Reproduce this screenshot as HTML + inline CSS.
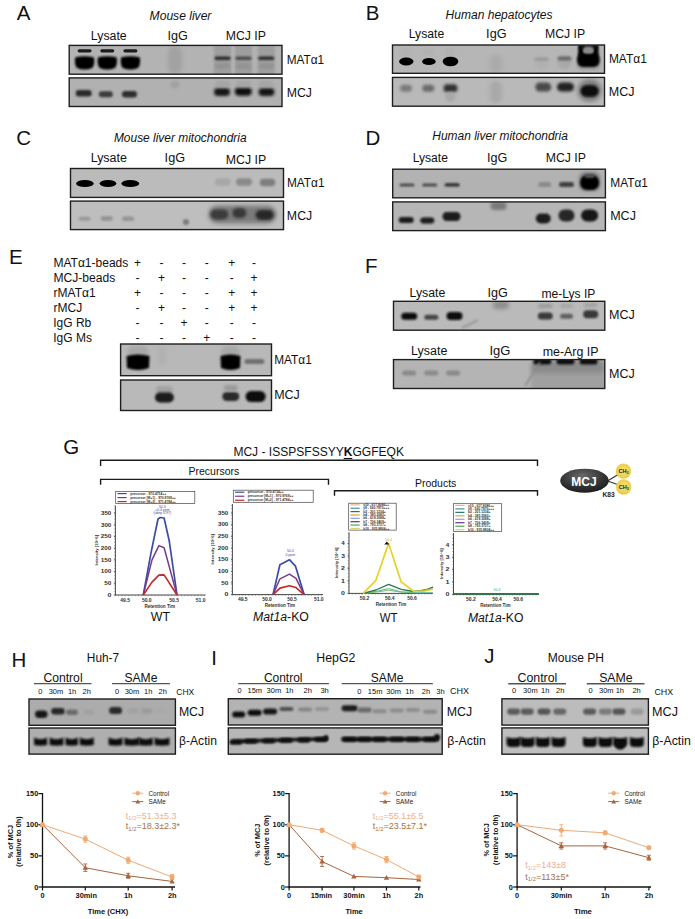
<!DOCTYPE html><html><head><meta charset="utf-8"><style>html,body{margin:0;padding:0;background:#fff;overflow:hidden;}svg{display:block;}</style></head><body>
<svg width="695" height="919" viewBox="0 0 695 919" font-family='"Liberation Sans", sans-serif'>
<defs>
<filter id="b6" x="-50%" y="-50%" width="200%" height="200%"><feGaussianBlur stdDeviation="0.6"/></filter>
<filter id="b7" x="-50%" y="-50%" width="200%" height="200%"><feGaussianBlur stdDeviation="0.7"/></filter>
<filter id="b8" x="-50%" y="-50%" width="200%" height="200%"><feGaussianBlur stdDeviation="0.8"/></filter>
<filter id="b9" x="-50%" y="-50%" width="200%" height="200%"><feGaussianBlur stdDeviation="0.9"/></filter>
<filter id="b10" x="-50%" y="-50%" width="200%" height="200%"><feGaussianBlur stdDeviation="1.0"/></filter>
<filter id="b11" x="-50%" y="-50%" width="200%" height="200%"><feGaussianBlur stdDeviation="1.1"/></filter>
<filter id="b12" x="-50%" y="-50%" width="200%" height="200%"><feGaussianBlur stdDeviation="1.2"/></filter>
<filter id="b13" x="-50%" y="-50%" width="200%" height="200%"><feGaussianBlur stdDeviation="1.3"/></filter>
<filter id="b14" x="-50%" y="-50%" width="200%" height="200%"><feGaussianBlur stdDeviation="1.4"/></filter>
<filter id="b15" x="-50%" y="-50%" width="200%" height="200%"><feGaussianBlur stdDeviation="1.5"/></filter>
<filter id="b16" x="-50%" y="-50%" width="200%" height="200%"><feGaussianBlur stdDeviation="1.6"/></filter>
<filter id="b18" x="-50%" y="-50%" width="200%" height="200%"><feGaussianBlur stdDeviation="1.8"/></filter>
<filter id="b20" x="-50%" y="-50%" width="200%" height="200%"><feGaussianBlur stdDeviation="2.0"/></filter>
</defs>
<rect width="695" height="919" fill="#fff"/>
<text x="16.76" y="19.90" font-size="20.5" fill="#111" >A</text>
<text x="149.63" y="19.90" font-size="12" fill="#111" font-style="italic" textLength="61.76" lengthAdjust="spacingAndGlyphs" >Mouse liver</text>
<text x="90.80" y="39.70" font-size="12.3" fill="#111" textLength="35.94" lengthAdjust="spacingAndGlyphs" >Lysate</text>
<text x="167.54" y="40.00" font-size="12.3" fill="#111" textLength="20.30" lengthAdjust="spacingAndGlyphs" >IgG</text>
<text x="225.80" y="40.00" font-size="12.3" fill="#111" textLength="40.15" lengthAdjust="spacingAndGlyphs" >MCJ IP</text>
<text x="286.65" y="63.70" font-size="12.3" fill="#111" textLength="37.41" lengthAdjust="spacingAndGlyphs" >MATα1</text>
<text x="286.79" y="97.40" font-size="12.3" fill="#111" textLength="25.22" lengthAdjust="spacingAndGlyphs" >MCJ</text>
<clipPath id="c1"><rect x="69.2" y="45.4" width="212.80" height="28.80"/></clipPath>
<g clip-path="url(#c1)">
<rect x="69.20" y="45.40" width="212.80" height="28.80" fill="#b3b3b3" stroke="none" stroke-width="1" rx="0" />
<rect x="77.6" y="49.2" width="14.0" height="3.2" rx="1.6" fill="#1a1a1a" opacity="1.0" filter="url(#b7)" />
<path d="M75.39999999999999,57.2 Q84.6,55.2 93.8,57.2 C94.8,61 94.3,66 92.0,68 Q84.6,71 77.19999999999999,68 C74.89999999999999,66 74.39999999999999,61 75.39999999999999,57.2 Z" fill="#050505" opacity="1.0" filter="url(#b8)"/>
<rect x="100.3" y="49.2" width="14.0" height="3.2" rx="1.6" fill="#1a1a1a" opacity="1.0" filter="url(#b7)" />
<path d="M98.1,57.2 Q107.3,55.2 116.5,57.2 C117.5,61 117.0,66 114.7,68 Q107.3,71 99.89999999999999,68 C97.6,66 97.1,61 98.1,57.2 Z" fill="#050505" opacity="1.0" filter="url(#b8)"/>
<rect x="123.4" y="49.2" width="14.0" height="3.2" rx="1.6" fill="#1a1a1a" opacity="1.0" filter="url(#b7)" />
<path d="M121.2,57.2 Q130.4,55.2 139.6,57.2 C140.6,61 140.1,66 137.8,68 Q130.4,71 123.0,68 C120.7,66 120.2,61 121.2,57.2 Z" fill="#050505" opacity="1.0" filter="url(#b8)"/>
<rect x="168.0" y="46.0" width="14.0" height="28.0" rx="7.0" fill="#a2a2a2" opacity="1.0" filter="url(#b20)" />
<rect x="214.1" y="45.0" width="17.0" height="30.0" rx="1.0" fill="#9e9e9e" opacity="1.0" filter="url(#b12)" />
<rect x="214.6" y="56.5" width="16.0" height="3.4" rx="1.7" fill="#2a2a2a" opacity="1.0" filter="url(#b10)" />
<rect x="215.1" y="63.5" width="15.0" height="5.0" rx="2.5" fill="#929292" opacity="1.0" filter="url(#b14)" />
<rect x="235.0" y="45.0" width="17.0" height="30.0" rx="1.0" fill="#9e9e9e" opacity="1.0" filter="url(#b12)" />
<rect x="235.5" y="56.5" width="16.0" height="3.4" rx="1.7" fill="#4a4a4a" opacity="1.0" filter="url(#b10)" />
<rect x="236.0" y="63.5" width="15.0" height="5.0" rx="2.5" fill="#929292" opacity="1.0" filter="url(#b14)" />
<rect x="257.7" y="45.0" width="17.0" height="30.0" rx="1.0" fill="#9e9e9e" opacity="1.0" filter="url(#b12)" />
<rect x="258.2" y="56.5" width="16.0" height="3.4" rx="1.7" fill="#2e2e2e" opacity="1.0" filter="url(#b10)" />
<rect x="258.7" y="63.5" width="15.0" height="5.0" rx="2.5" fill="#929292" opacity="1.0" filter="url(#b14)" />
</g>
<rect x="69.20" y="45.40" width="212.80" height="28.80" fill="none" stroke="#1e1e1e" stroke-width="1.4" rx="0" />
<clipPath id="c2"><rect x="69.2" y="77.9" width="212.80" height="28.60"/></clipPath>
<g clip-path="url(#c2)">
<rect x="69.20" y="77.90" width="212.80" height="28.60" fill="#b1b1b1" stroke="none" stroke-width="1" rx="0" />
<rect x="75.7" y="90.0" width="16.0" height="6.5" rx="3.2" fill="#2a2a2a" opacity="1.0" filter="url(#b13)" />
<rect x="98.8" y="91.2" width="14.0" height="6.0" rx="3.0" fill="#3a3a3a" opacity="1.0" filter="url(#b13)" />
<rect x="122.0" y="91.0" width="15.0" height="6.5" rx="3.2" fill="#2e2e2e" opacity="1.0" filter="url(#b13)" />
<rect x="170.5" y="81.0" width="9.0" height="7.0" rx="3.5" fill="#a0a0a0" opacity="1.0" filter="url(#b18)" />
<rect x="214.0" y="87.9" width="16.0" height="8.2" rx="4.1" fill="#121212" opacity="1.0" filter="url(#b14)" />
<rect x="234.8" y="87.5" width="17.0" height="8.2" rx="4.1" fill="#0c0c0c" opacity="1.0" filter="url(#b14)" />
<rect x="258.5" y="87.9" width="16.0" height="8.2" rx="4.1" fill="#161616" opacity="1.0" filter="url(#b14)" />
<rect x="215.1" y="81.0" width="15.0" height="6.0" rx="3.0" fill="#a5a5a5" opacity="1.0" filter="url(#b15)" />
<rect x="236.0" y="81.0" width="15.0" height="6.0" rx="3.0" fill="#a5a5a5" opacity="1.0" filter="url(#b15)" />
<rect x="258.7" y="81.0" width="15.0" height="6.0" rx="3.0" fill="#a5a5a5" opacity="1.0" filter="url(#b15)" />
</g>
<rect x="69.20" y="77.90" width="212.80" height="28.60" fill="none" stroke="#1e1e1e" stroke-width="1.4" rx="0" />
<text x="365.72" y="19.60" font-size="20.5" fill="#111" >B</text>
<text x="445.63" y="18.80" font-size="12" fill="#111" font-style="italic" textLength="106.92" lengthAdjust="spacingAndGlyphs" >Human hepatocytes</text>
<text x="408.81" y="37.60" font-size="12.3" fill="#111" textLength="35.42" lengthAdjust="spacingAndGlyphs" >Lysate</text>
<text x="486.13" y="38.10" font-size="12.3" fill="#111" textLength="20.42" lengthAdjust="spacingAndGlyphs" >IgG</text>
<text x="545.00" y="38.10" font-size="12.3" fill="#111" textLength="40.15" lengthAdjust="spacingAndGlyphs" >MCJ IP</text>
<text x="608.94" y="63.40" font-size="12.3" fill="#111" textLength="37.83" lengthAdjust="spacingAndGlyphs" >MATα1</text>
<text x="608.87" y="95.50" font-size="12.3" fill="#111" textLength="25.76" lengthAdjust="spacingAndGlyphs" >MCJ</text>
<clipPath id="c3"><rect x="392.5" y="45.0" width="212.00" height="28.30"/></clipPath>
<g clip-path="url(#c3)">
<rect x="392.50" y="45.00" width="212.00" height="28.30" fill="#b6b6b6" stroke="none" stroke-width="1" rx="0" />
<rect x="400.3" y="47.0" width="12.0" height="10.0" rx="5.0" fill="#b2b2b2" opacity="1.0" filter="url(#b15)" />
<rect x="422.9" y="47.0" width="12.0" height="10.0" rx="5.0" fill="#b2b2b2" opacity="1.0" filter="url(#b15)" />
<rect x="444.5" y="47.0" width="12.0" height="10.0" rx="5.0" fill="#b2b2b2" opacity="1.0" filter="url(#b15)" />
<ellipse cx="406.3" cy="61.5" rx="7.2" ry="4.0" fill="#050505" opacity="1.0" filter="url(#b6)"/>
<ellipse cx="428.9" cy="61.5" rx="6.8" ry="3.6" fill="#050505" opacity="1.0" filter="url(#b6)"/>
<ellipse cx="450.5" cy="61.5" rx="7.8" ry="4.8" fill="#050505" opacity="1.0" filter="url(#b6)"/>
<rect x="488.8" y="55.0" width="14.0" height="18.0" rx="7.0" fill="#ababab" opacity="1.0" filter="url(#b20)" />
<rect x="534.5" y="55.0" width="14.0" height="14.0" rx="7.0" fill="#b0b0b0" opacity="1.0" filter="url(#b15)" />
<rect x="534.5" y="57.8" width="14.0" height="3.0" rx="1.5" fill="#999" opacity="1.0" filter="url(#b10)" />
<rect x="557.5" y="55.0" width="14.0" height="14.0" rx="7.0" fill="#a8a8a8" opacity="1.0" filter="url(#b15)" />
<rect x="557.5" y="56.5" width="14.0" height="4.0" rx="2.0" fill="#6a6a6a" opacity="1.0" filter="url(#b9)" />
<rect x="576.5" y="54.0" width="24.0" height="16.0" rx="6.0" fill="#9a9a9a" opacity="1.0" filter="url(#b18)" />
<rect x="577.1" y="52.4" width="22.5" height="14.5" rx="6.0" fill="#050505" opacity="1.0" filter="url(#b9)" />
<rect x="578.2" y="44.5" width="5.5" height="12.0" rx="2.5" fill="#050505" opacity="1.0" filter="url(#b9)" />
<rect x="593.0" y="44.5" width="5.5" height="12.0" rx="2.5" fill="#050505" opacity="1.0" filter="url(#b9)" />
<rect x="579.4" y="45.0" width="18.0" height="4.0" rx="1.5" fill="#0a0a0a" opacity="1.0" filter="url(#b9)" />
<rect x="583.4" y="46.5" width="10.0" height="7.0" rx="3.5" fill="#8a8a8a" opacity="1.0" filter="url(#b13)" />
</g>
<rect x="392.50" y="45.00" width="212.00" height="28.30" fill="none" stroke="#1e1e1e" stroke-width="1.4" rx="0" />
<clipPath id="c4"><rect x="392.5" y="77.4" width="212.00" height="28.80"/></clipPath>
<g clip-path="url(#c4)">
<rect x="392.50" y="77.40" width="212.00" height="28.80" fill="#b9b9b9" stroke="none" stroke-width="1" rx="0" />
<rect x="400.0" y="84.8" width="12.0" height="7.0" rx="3.5" fill="#7a7a7a" opacity="1.0" filter="url(#b15)" />
<rect x="422.3" y="84.8" width="12.0" height="7.0" rx="3.5" fill="#6a6a6a" opacity="1.0" filter="url(#b15)" />
<rect x="443.5" y="84.3" width="14.0" height="8.0" rx="4.0" fill="#303030" opacity="1.0" filter="url(#b14)" />
<rect x="445.5" y="92.0" width="10.0" height="10.0" rx="5.0" fill="#a8a8a8" opacity="1.0" filter="url(#b15)" />
<rect x="489.8" y="81.0" width="12.0" height="22.0" rx="6.0" fill="#a8a8a8" opacity="1.0" filter="url(#b20)" />
<rect x="535.3" y="82.5" width="16.0" height="9.0" rx="4.5" fill="#4a4a4a" opacity="1.0" filter="url(#b15)" />
<rect x="557.0" y="82.5" width="17.0" height="9.0" rx="4.5" fill="#222" opacity="1.0" filter="url(#b14)" />
<rect x="577.6" y="79.5" width="24.0" height="22.0" rx="11.0" fill="#7a7a7a" opacity="1.0" filter="url(#b20)" />
<rect x="580.6" y="85.2" width="18.0" height="11.5" rx="5.8" fill="#080808" opacity="1.0" filter="url(#b13)" />
</g>
<rect x="392.50" y="77.40" width="212.00" height="28.80" fill="none" stroke="#1e1e1e" stroke-width="1.4" rx="0" />
<text x="16.36" y="145.40" font-size="20.5" fill="#111" >C</text>
<text x="113.93" y="141.60" font-size="12" fill="#111" font-style="italic" textLength="132.68" lengthAdjust="spacingAndGlyphs" >Mouse liver mitochondria</text>
<text x="90.69" y="161.70" font-size="12.3" fill="#111" textLength="36.15" lengthAdjust="spacingAndGlyphs" >Lysate</text>
<text x="164.63" y="161.70" font-size="12.3" fill="#111" textLength="20.42" lengthAdjust="spacingAndGlyphs" >IgG</text>
<text x="225.79" y="163.60" font-size="12.3" fill="#111" textLength="40.46" lengthAdjust="spacingAndGlyphs" >MCJ IP</text>
<text x="286.95" y="186.80" font-size="12.3" fill="#111" textLength="37.62" lengthAdjust="spacingAndGlyphs" >MATα1</text>
<text x="286.89" y="219.90" font-size="12.3" fill="#111" textLength="25.33" lengthAdjust="spacingAndGlyphs" >MCJ</text>
<clipPath id="c5"><rect x="70.5" y="168.5" width="213.00" height="28.90"/></clipPath>
<g clip-path="url(#c5)">
<rect x="70.50" y="168.50" width="213.00" height="28.90" fill="#bbbbbb" stroke="none" stroke-width="1" rx="0" />
<ellipse cx="84.9" cy="183.5" rx="8.8" ry="3.6" fill="#050505" opacity="1.0" filter="url(#b6)"/>
<ellipse cx="108.0" cy="183.5" rx="8.4" ry="3.5" fill="#050505" opacity="1.0" filter="url(#b6)"/>
<ellipse cx="130.3" cy="183.5" rx="8.9" ry="3.6" fill="#050505" opacity="1.0" filter="url(#b6)"/>
<rect x="214.8" y="178.2" width="16.0" height="7.5" rx="3.8" fill="#a8a8a8" opacity="1.0" filter="url(#b13)" />
<rect x="236.0" y="178.2" width="16.0" height="7.5" rx="3.8" fill="#8a8a8a" opacity="1.0" filter="url(#b13)" />
<rect x="259.8" y="178.8" width="15.5" height="7.5" rx="3.8" fill="#7e7e7e" opacity="1.0" filter="url(#b13)" />
</g>
<rect x="70.50" y="168.50" width="213.00" height="28.90" fill="none" stroke="#1e1e1e" stroke-width="1.4" rx="0" />
<clipPath id="c6"><rect x="70.5" y="201.1" width="213.00" height="28.50"/></clipPath>
<g clip-path="url(#c6)">
<rect x="70.50" y="201.10" width="213.00" height="28.50" fill="#bebebe" stroke="none" stroke-width="1" rx="0" />
<rect x="78.6" y="216.8" width="12.0" height="4.0" rx="2.0" fill="#9a9a9a" opacity="1.0" filter="url(#b12)" />
<rect x="100.7" y="216.2" width="12.0" height="4.5" rx="2.2" fill="#929292" opacity="1.0" filter="url(#b12)" />
<rect x="122.1" y="216.6" width="12.0" height="4.5" rx="2.2" fill="#949494" opacity="1.0" filter="url(#b12)" />
<rect x="183.0" y="219.0" width="6.0" height="6.0" rx="3.0" fill="#7a7a7a" opacity="1.0" filter="url(#b12)" />
<rect x="208.5" y="205.5" width="68.0" height="18.0" rx="9.0" fill="#7a7a7a" opacity="1.0" filter="url(#b20)" />
<rect x="210.3" y="209.5" width="18.0" height="10.0" rx="5.0" fill="#3a3a3a" opacity="1.0" filter="url(#b16)" />
<rect x="232.4" y="208.0" width="14.0" height="10.0" rx="5.0" fill="#383838" opacity="1.0" filter="url(#b16)" />
<rect x="255.6" y="210.0" width="18.0" height="10.0" rx="5.0" fill="#262626" opacity="1.0" filter="url(#b16)" />
</g>
<rect x="70.50" y="201.10" width="213.00" height="28.50" fill="none" stroke="#1e1e1e" stroke-width="1.4" rx="0" />
<text x="365.42" y="145.00" font-size="20.5" fill="#111" >D</text>
<text x="432.33" y="139.60" font-size="12" fill="#111" font-style="italic" textLength="135.58" lengthAdjust="spacingAndGlyphs" >Human liver mitochondria</text>
<text x="412.72" y="161.80" font-size="12.3" fill="#111" textLength="35.21" lengthAdjust="spacingAndGlyphs" >Lysate</text>
<text x="486.94" y="162.10" font-size="12.3" fill="#111" textLength="20.30" lengthAdjust="spacingAndGlyphs" >IgG</text>
<text x="545.80" y="162.10" font-size="12.3" fill="#111" textLength="40.15" lengthAdjust="spacingAndGlyphs" >MCJ IP</text>
<text x="610.25" y="187.30" font-size="12.3" fill="#111" textLength="37.62" lengthAdjust="spacingAndGlyphs" >MATα1</text>
<text x="610.17" y="219.90" font-size="12.3" fill="#111" textLength="25.76" lengthAdjust="spacingAndGlyphs" >MCJ</text>
<clipPath id="c7"><rect x="392.7" y="169.2" width="212.70" height="28.60"/></clipPath>
<g clip-path="url(#c7)">
<rect x="392.70" y="169.20" width="212.70" height="28.60" fill="#b2b2b2" stroke="none" stroke-width="1" rx="0" />
<rect x="399.5" y="183.4" width="15.0" height="3.0" rx="1.5" fill="#4a4a4a" opacity="1.0" filter="url(#b8)" />
<rect x="422.2" y="183.4" width="15.0" height="3.0" rx="1.5" fill="#4a4a4a" opacity="1.0" filter="url(#b8)" />
<rect x="444.6" y="183.2" width="15.0" height="3.4" rx="1.7" fill="#2a2a2a" opacity="1.0" filter="url(#b8)" />
<rect x="538.2" y="182.1" width="13.0" height="5.0" rx="2.5" fill="#8a8a8a" opacity="1.0" filter="url(#b11)" />
<rect x="559.0" y="182.1" width="15.0" height="5.0" rx="2.5" fill="#404040" opacity="1.0" filter="url(#b10)" />
<rect x="578.6" y="171.5" width="22.0" height="20.0" rx="7.0" fill="#8a8a8a" opacity="1.0" filter="url(#b16)" />
<rect x="580.1" y="175.0" width="19.0" height="15.0" rx="7.0" fill="#060606" opacity="1.0" filter="url(#b10)" />
<rect x="584.6" y="174.0" width="10.0" height="4.0" rx="2.0" fill="#555" opacity="1.0" filter="url(#b12)" />
</g>
<rect x="392.70" y="169.20" width="212.70" height="28.60" fill="none" stroke="#1e1e1e" stroke-width="1.4" rx="0" />
<clipPath id="c8"><rect x="392.7" y="201.9" width="212.70" height="28.70"/></clipPath>
<g clip-path="url(#c8)">
<rect x="392.70" y="201.90" width="212.70" height="28.70" fill="#b6b6b6" stroke="none" stroke-width="1" rx="0" />
<rect x="398.7" y="217.1" width="15.0" height="6.0" rx="3.0" fill="#1a1a1a" opacity="1.0" filter="url(#b10)" />
<rect x="420.3" y="217.5" width="14.0" height="6.0" rx="3.0" fill="#1a1a1a" opacity="1.0" filter="url(#b10)" />
<rect x="442.5" y="212.0" width="18.0" height="9.0" rx="4.5" fill="#1a1a1a" opacity="1.0" filter="url(#b10)" />
<rect x="490.5" y="202.0" width="16.0" height="8.0" rx="4.0" fill="#7a7a7a" opacity="1.0" filter="url(#b16)" />
<rect x="535.8" y="213.5" width="15.0" height="10.0" rx="5.0" fill="#1e1e1e" opacity="1.0" filter="url(#b12)" />
<rect x="558.5" y="209.5" width="16.0" height="12.0" rx="6.0" fill="#262626" opacity="1.0" filter="url(#b12)" />
<rect x="581.1" y="209.5" width="17.0" height="12.0" rx="6.0" fill="#161616" opacity="1.0" filter="url(#b12)" />
</g>
<rect x="392.70" y="201.90" width="212.70" height="28.70" fill="none" stroke="#1e1e1e" stroke-width="1.4" rx="0" />
<text x="9.12" y="263.50" font-size="20.5" fill="#111" >E</text>
<text x="53.43" y="266.50" font-size="12" fill="#111" textLength="74.90" lengthAdjust="spacingAndGlyphs" >MATα1-beads</text>
<text x="137.60" y="266.50" font-size="12" text-anchor="middle" fill="#111" >+</text>
<text x="161.60" y="266.50" font-size="12" text-anchor="middle" fill="#111" >-</text>
<text x="184.10" y="266.50" font-size="12" text-anchor="middle" fill="#111" >-</text>
<text x="206.80" y="266.50" font-size="12" text-anchor="middle" fill="#111" >-</text>
<text x="231.80" y="266.50" font-size="12" text-anchor="middle" fill="#111" >+</text>
<text x="254.00" y="266.50" font-size="12" text-anchor="middle" fill="#111" >-</text>
<text x="53.41" y="281.60" font-size="12" fill="#111" textLength="61.83" lengthAdjust="spacingAndGlyphs" >MCJ-beads</text>
<text x="137.60" y="281.60" font-size="12" text-anchor="middle" fill="#111" >-</text>
<text x="161.60" y="281.60" font-size="12" text-anchor="middle" fill="#111" >+</text>
<text x="184.10" y="281.60" font-size="12" text-anchor="middle" fill="#111" >-</text>
<text x="206.80" y="281.60" font-size="12" text-anchor="middle" fill="#111" >-</text>
<text x="231.80" y="281.60" font-size="12" text-anchor="middle" fill="#111" >-</text>
<text x="254.00" y="281.60" font-size="12" text-anchor="middle" fill="#111" >+</text>
<text x="53.60" y="296.80" font-size="12" fill="#111" >rMATα1</text>
<text x="137.60" y="296.80" font-size="12" text-anchor="middle" fill="#111" >+</text>
<text x="161.60" y="296.80" font-size="12" text-anchor="middle" fill="#111" >-</text>
<text x="184.10" y="296.80" font-size="12" text-anchor="middle" fill="#111" >-</text>
<text x="206.80" y="296.80" font-size="12" text-anchor="middle" fill="#111" >-</text>
<text x="231.80" y="296.80" font-size="12" text-anchor="middle" fill="#111" >+</text>
<text x="254.00" y="296.80" font-size="12" text-anchor="middle" fill="#111" >+</text>
<text x="53.60" y="311.60" font-size="12" fill="#111" >rMCJ</text>
<text x="137.60" y="311.60" font-size="12" text-anchor="middle" fill="#111" >-</text>
<text x="161.60" y="311.60" font-size="12" text-anchor="middle" fill="#111" >+</text>
<text x="184.10" y="311.60" font-size="12" text-anchor="middle" fill="#111" >-</text>
<text x="206.80" y="311.60" font-size="12" text-anchor="middle" fill="#111" >-</text>
<text x="231.80" y="311.60" font-size="12" text-anchor="middle" fill="#111" >+</text>
<text x="254.00" y="311.60" font-size="12" text-anchor="middle" fill="#111" >+</text>
<text x="53.29" y="326.50" font-size="12" fill="#111" >IgG Rb</text>
<text x="137.60" y="326.50" font-size="12" text-anchor="middle" fill="#111" >-</text>
<text x="161.60" y="326.50" font-size="12" text-anchor="middle" fill="#111" >-</text>
<text x="184.10" y="326.50" font-size="12" text-anchor="middle" fill="#111" >+</text>
<text x="206.80" y="326.50" font-size="12" text-anchor="middle" fill="#111" >-</text>
<text x="231.80" y="326.50" font-size="12" text-anchor="middle" fill="#111" >-</text>
<text x="254.00" y="326.50" font-size="12" text-anchor="middle" fill="#111" >-</text>
<text x="53.29" y="341.50" font-size="12" fill="#111" >IgG Ms</text>
<text x="137.60" y="341.50" font-size="12" text-anchor="middle" fill="#111" >-</text>
<text x="161.60" y="341.50" font-size="12" text-anchor="middle" fill="#111" >-</text>
<text x="184.10" y="341.50" font-size="12" text-anchor="middle" fill="#111" >-</text>
<text x="206.80" y="341.50" font-size="12" text-anchor="middle" fill="#111" >+</text>
<text x="231.80" y="341.50" font-size="12" text-anchor="middle" fill="#111" >-</text>
<text x="254.00" y="341.50" font-size="12" text-anchor="middle" fill="#111" >-</text>
<text x="274.25" y="364.00" font-size="12.3" fill="#111" textLength="37.51" lengthAdjust="spacingAndGlyphs" >MATα1</text>
<text x="274.18" y="399.00" font-size="12.3" fill="#111" textLength="25.65" lengthAdjust="spacingAndGlyphs" >MCJ</text>
<clipPath id="c9"><rect x="120.6" y="344.0" width="150.90" height="31.70"/></clipPath>
<g clip-path="url(#c9)">
<rect x="120.60" y="344.00" width="150.90" height="31.70" fill="#b8b8b8" stroke="none" stroke-width="1" rx="0" />
<rect x="127.5" y="346.0" width="21.0" height="12.0" rx="6.0" fill="#a8a8a8" opacity="1.0" filter="url(#b15)" />
<path d="M126.5,356 Q138,353 149.5,356 L149,368 Q138,372 127,368 Z" fill="#050505" opacity="1.0" filter="url(#b8)"/>
<rect x="221.0" y="346.0" width="19.0" height="12.0" rx="6.0" fill="#a8a8a8" opacity="1.0" filter="url(#b15)" />
<path d="M220.5,356 Q230.5,353 240.5,356 L240,368 Q230.5,372 221,368 Z" fill="#050505" opacity="1.0" filter="url(#b8)"/>
<rect x="244.4" y="359.1" width="20.0" height="5.0" rx="2.5" fill="#707070" opacity="1.0" filter="url(#b13)" />
<rect x="158.0" y="346.0" width="8.0" height="20.0" rx="4.0" fill="#b0b0b0" opacity="1.0" filter="url(#b20)" />
</g>
<rect x="120.60" y="344.00" width="150.90" height="31.70" fill="none" stroke="#1e1e1e" stroke-width="1.4" rx="0" />
<clipPath id="c10"><rect x="120.6" y="380.0" width="150.90" height="30.50"/></clipPath>
<g clip-path="url(#c10)">
<rect x="120.60" y="380.00" width="150.90" height="30.50" fill="#b9b9b9" stroke="none" stroke-width="1" rx="0" />
<rect x="155.9" y="386.0" width="17.0" height="8.0" rx="4.0" fill="#a0a0a0" opacity="1.0" filter="url(#b15)" />
<rect x="154.9" y="392.5" width="19.0" height="10.0" rx="5.0" fill="#1c1c1c" opacity="1.0" filter="url(#b12)" />
<rect x="222.3" y="392.0" width="17.0" height="9.0" rx="4.5" fill="#2a2a2a" opacity="1.0" filter="url(#b12)" />
<rect x="223.8" y="385.0" width="14.0" height="6.0" rx="3.0" fill="#9a9a9a" opacity="1.0" filter="url(#b15)" />
<rect x="245.6" y="391.0" width="20.0" height="11.0" rx="5.5" fill="#0e0e0e" opacity="1.0" filter="url(#b12)" />
</g>
<rect x="120.60" y="380.00" width="150.90" height="30.50" fill="none" stroke="#1e1e1e" stroke-width="1.4" rx="0" />
<text x="365.02" y="273.30" font-size="20.5" fill="#111" >F</text>
<text x="409.61" y="297.00" font-size="12.3" fill="#111" textLength="35.73" lengthAdjust="spacingAndGlyphs" >Lysate</text>
<text x="487.44" y="297.30" font-size="12.3" fill="#111" textLength="20.30" lengthAdjust="spacingAndGlyphs" >IgG</text>
<text x="541.40" y="297.50" font-size="12.3" fill="#111" textLength="54.03" lengthAdjust="spacingAndGlyphs" >me-Lys IP</text>
<text x="411.09" y="354.60" font-size="12.3" fill="#111" textLength="36.26" lengthAdjust="spacingAndGlyphs" >Lysate</text>
<text x="489.40" y="354.60" font-size="12.3" fill="#111" textLength="20.97" lengthAdjust="spacingAndGlyphs" >IgG</text>
<text x="542.68" y="355.50" font-size="12.3" fill="#111" textLength="55.88" lengthAdjust="spacingAndGlyphs" >me-Arg IP</text>
<text x="608.97" y="319.10" font-size="12.3" fill="#111" textLength="25.76" lengthAdjust="spacingAndGlyphs" >MCJ</text>
<text x="608.97" y="377.60" font-size="12.3" fill="#111" textLength="25.76" lengthAdjust="spacingAndGlyphs" >MCJ</text>
<clipPath id="c11"><rect x="393.5" y="301.3" width="211.30" height="28.90"/></clipPath>
<g clip-path="url(#c11)">
<rect x="393.50" y="301.30" width="211.30" height="28.90" fill="#bababa" stroke="none" stroke-width="1" rx="0" />
<rect x="401.2" y="312.8" width="16.0" height="7.0" rx="3.5" fill="#111" opacity="1.0" filter="url(#b10)" />
<rect x="424.3" y="314.8" width="14.0" height="5.0" rx="2.5" fill="#444" opacity="1.0" filter="url(#b10)" />
<rect x="446.5" y="311.9" width="16.0" height="8.0" rx="4.0" fill="#111" opacity="1.0" filter="url(#b10)" />
<rect x="493.0" y="301.0" width="16.0" height="8.0" rx="4.0" fill="#8c8c8c" opacity="1.0" filter="url(#b20)" />
<line x1="462" y1="328" x2="478" y2="320" stroke="#9a9a9a" stroke-width="2" filter="url(#b10)"/>
<rect x="537.8" y="304.0" width="15.0" height="4.0" rx="2.0" fill="#999" opacity="1.0" filter="url(#b14)" />
<rect x="537.8" y="312.4" width="15.0" height="7.0" rx="3.5" fill="#3a3a3a" opacity="1.0" filter="url(#b12)" />
<rect x="560.0" y="313.8" width="13.0" height="5.0" rx="2.5" fill="#606060" opacity="1.0" filter="url(#b12)" />
<rect x="560.0" y="304.0" width="13.0" height="4.0" rx="2.0" fill="#a5a5a5" opacity="1.0" filter="url(#b14)" />
<rect x="583.2" y="310.2" width="15.0" height="8.0" rx="4.0" fill="#383838" opacity="1.0" filter="url(#b12)" />
<rect x="583.7" y="303.0" width="14.0" height="4.0" rx="2.0" fill="#a0a0a0" opacity="1.0" filter="url(#b14)" />
</g>
<rect x="393.50" y="301.30" width="211.30" height="28.90" fill="none" stroke="#1e1e1e" stroke-width="1.4" rx="0" />
<clipPath id="c12"><rect x="393.5" y="359.6" width="211.30" height="28.90"/></clipPath>
<g clip-path="url(#c12)">
<rect x="393.50" y="359.60" width="211.30" height="28.90" fill="#b4b4b4" stroke="none" stroke-width="1" rx="0" />
<rect x="402.2" y="370.6" width="14.0" height="5.0" rx="2.5" fill="#8a8a8a" opacity="1.0" filter="url(#b13)" />
<rect x="424.3" y="370.6" width="14.0" height="5.0" rx="2.5" fill="#8a8a8a" opacity="1.0" filter="url(#b13)" />
<rect x="446.1" y="370.6" width="14.0" height="5.0" rx="2.5" fill="#8a8a8a" opacity="1.0" filter="url(#b13)" />
<rect x="531.0" y="362.0" width="76.0" height="30.0" rx="3.0" fill="#a0a0a0" opacity="1.0" filter="url(#b20)" />
<rect x="532.0" y="361.0" width="72.0" height="12.0" rx="3.0" fill="#8a8a8a" opacity="1.0" filter="url(#b20)" />
<rect x="533.3" y="358.5" width="18.0" height="6.0" rx="3.0" fill="#111" opacity="1.0" filter="url(#b12)" />
<rect x="556.5" y="358.5" width="18.0" height="6.0" rx="3.0" fill="#111" opacity="1.0" filter="url(#b12)" />
<rect x="579.6" y="358.5" width="18.0" height="6.0" rx="3.0" fill="#111" opacity="1.0" filter="url(#b12)" />
<line x1="525" y1="386" x2="540" y2="362" stroke="#8a8a8a" stroke-width="1.5" filter="url(#b10)"/>
</g>
<rect x="393.50" y="359.60" width="211.30" height="28.90" fill="none" stroke="#1e1e1e" stroke-width="1.4" rx="0" />
<text x="63.17" y="454.20" font-size="20.5" fill="#111" >G</text>
<text x="233.41" y="455.50" font-size="12" fill="#111" textLength="170.53" lengthAdjust="spacingAndGlyphs" >MCJ - ISSPSFSSYY<tspan font-weight="bold">K</tspan>GGFEQK</text>
<line x1="343.70" y1="458.50" x2="352.30" y2="458.50" stroke="#111" stroke-width="1.1" />
<path d="M100.6,466.0 V460.2 H537.5 V466.0" fill="none" stroke="#1a1a1a" stroke-width="1.4"/>
<text x="188.44" y="475.30" font-size="10.5" fill="#111" textLength="50.84" lengthAdjust="spacingAndGlyphs" >Precursors</text>
<path d="M100.6,484.7 V479.4 H328.5 V484.7" fill="none" stroke="#1a1a1a" stroke-width="1.4"/>
<text x="415.04" y="487.10" font-size="10.5" fill="#111" textLength="41.23" lengthAdjust="spacingAndGlyphs" >Products</text>
<path d="M334.5,495.8 V490.8 H537.5 V495.8" fill="none" stroke="#1a1a1a" stroke-width="1.4"/>
<line x1="115.40" y1="505.50" x2="115.40" y2="595.00" stroke="#333" stroke-width="0.9" />
<line x1="115.40" y1="595.00" x2="205.50" y2="595.00" stroke="#333" stroke-width="0.9" />
<text x="107.47" y="596.70" font-size="4.9" fill="#333" font-weight="bold" textLength="3.92" lengthAdjust="spacingAndGlyphs" >0</text>
<line x1="113.90" y1="595.00" x2="115.40" y2="595.00" stroke="#333" stroke-width="0.7" />
<text x="104.20" y="585.00" font-size="4.9" fill="#333" font-weight="bold" textLength="7.16" lengthAdjust="spacingAndGlyphs" >50</text>
<line x1="113.90" y1="583.30" x2="115.40" y2="583.30" stroke="#333" stroke-width="0.7" />
<text x="100.65" y="573.30" font-size="4.9" fill="#333" font-weight="bold" textLength="10.72" lengthAdjust="spacingAndGlyphs" >100</text>
<line x1="113.90" y1="571.60" x2="115.40" y2="571.60" stroke="#333" stroke-width="0.7" />
<text x="100.65" y="561.60" font-size="4.9" fill="#333" font-weight="bold" textLength="10.72" lengthAdjust="spacingAndGlyphs" >150</text>
<line x1="113.90" y1="559.90" x2="115.40" y2="559.90" stroke="#333" stroke-width="0.7" />
<text x="100.83" y="549.90" font-size="4.9" fill="#333" font-weight="bold" textLength="10.53" lengthAdjust="spacingAndGlyphs" >200</text>
<line x1="113.90" y1="548.20" x2="115.40" y2="548.20" stroke="#333" stroke-width="0.7" />
<text x="100.83" y="538.20" font-size="4.9" fill="#333" font-weight="bold" textLength="10.53" lengthAdjust="spacingAndGlyphs" >250</text>
<line x1="113.90" y1="536.50" x2="115.40" y2="536.50" stroke="#333" stroke-width="0.7" />
<text x="100.91" y="526.50" font-size="4.9" fill="#333" font-weight="bold" textLength="10.45" lengthAdjust="spacingAndGlyphs" >300</text>
<line x1="113.90" y1="524.80" x2="115.40" y2="524.80" stroke="#333" stroke-width="0.7" />
<text x="100.91" y="514.80" font-size="4.9" fill="#333" font-weight="bold" textLength="10.45" lengthAdjust="spacingAndGlyphs" >350</text>
<line x1="113.90" y1="513.10" x2="115.40" y2="513.10" stroke="#333" stroke-width="0.7" />
<text x="125.20" y="601.60" font-size="5.0" text-anchor="middle" fill="#333" font-weight="bold" >49.5</text>
<text x="146.80" y="601.60" font-size="5.0" text-anchor="middle" fill="#333" font-weight="bold" >50.0</text>
<text x="174.10" y="601.60" font-size="5.0" text-anchor="middle" fill="#333" font-weight="bold" >50.5</text>
<text x="200.70" y="601.60" font-size="5.0" text-anchor="middle" fill="#333" font-weight="bold" >51.0</text>
<line x1="115.40" y1="595.00" x2="115.40" y2="596.20" stroke="#555" stroke-width="0.5" />
<line x1="118.70" y1="595.00" x2="118.70" y2="596.20" stroke="#555" stroke-width="0.5" />
<line x1="122.00" y1="595.00" x2="122.00" y2="596.20" stroke="#555" stroke-width="0.5" />
<line x1="125.30" y1="595.00" x2="125.30" y2="596.20" stroke="#555" stroke-width="0.5" />
<line x1="128.60" y1="595.00" x2="128.60" y2="596.20" stroke="#555" stroke-width="0.5" />
<line x1="131.90" y1="595.00" x2="131.90" y2="596.20" stroke="#555" stroke-width="0.5" />
<line x1="135.20" y1="595.00" x2="135.20" y2="596.20" stroke="#555" stroke-width="0.5" />
<line x1="138.50" y1="595.00" x2="138.50" y2="596.20" stroke="#555" stroke-width="0.5" />
<line x1="141.80" y1="595.00" x2="141.80" y2="596.20" stroke="#555" stroke-width="0.5" />
<line x1="145.10" y1="595.00" x2="145.10" y2="596.20" stroke="#555" stroke-width="0.5" />
<line x1="148.40" y1="595.00" x2="148.40" y2="596.20" stroke="#555" stroke-width="0.5" />
<line x1="151.70" y1="595.00" x2="151.70" y2="596.20" stroke="#555" stroke-width="0.5" />
<line x1="155.00" y1="595.00" x2="155.00" y2="596.20" stroke="#555" stroke-width="0.5" />
<line x1="158.30" y1="595.00" x2="158.30" y2="596.20" stroke="#555" stroke-width="0.5" />
<line x1="161.60" y1="595.00" x2="161.60" y2="596.20" stroke="#555" stroke-width="0.5" />
<line x1="164.90" y1="595.00" x2="164.90" y2="596.20" stroke="#555" stroke-width="0.5" />
<line x1="168.20" y1="595.00" x2="168.20" y2="596.20" stroke="#555" stroke-width="0.5" />
<line x1="171.50" y1="595.00" x2="171.50" y2="596.20" stroke="#555" stroke-width="0.5" />
<line x1="174.80" y1="595.00" x2="174.80" y2="596.20" stroke="#555" stroke-width="0.5" />
<line x1="178.10" y1="595.00" x2="178.10" y2="596.20" stroke="#555" stroke-width="0.5" />
<line x1="181.40" y1="595.00" x2="181.40" y2="596.20" stroke="#555" stroke-width="0.5" />
<line x1="184.70" y1="595.00" x2="184.70" y2="596.20" stroke="#555" stroke-width="0.5" />
<line x1="188.00" y1="595.00" x2="188.00" y2="596.20" stroke="#555" stroke-width="0.5" />
<line x1="191.30" y1="595.00" x2="191.30" y2="596.20" stroke="#555" stroke-width="0.5" />
<line x1="194.60" y1="595.00" x2="194.60" y2="596.20" stroke="#555" stroke-width="0.5" />
<line x1="197.90" y1="595.00" x2="197.90" y2="596.20" stroke="#555" stroke-width="0.5" />
<line x1="201.20" y1="595.00" x2="201.20" y2="596.20" stroke="#555" stroke-width="0.5" />
<line x1="204.50" y1="595.00" x2="204.50" y2="596.20" stroke="#555" stroke-width="0.5" />
<line x1="114.20" y1="595.00" x2="115.40" y2="595.00" stroke="#555" stroke-width="0.5" />
<line x1="114.20" y1="591.70" x2="115.40" y2="591.70" stroke="#555" stroke-width="0.5" />
<line x1="114.20" y1="588.40" x2="115.40" y2="588.40" stroke="#555" stroke-width="0.5" />
<line x1="114.20" y1="585.10" x2="115.40" y2="585.10" stroke="#555" stroke-width="0.5" />
<line x1="114.20" y1="581.80" x2="115.40" y2="581.80" stroke="#555" stroke-width="0.5" />
<line x1="114.20" y1="578.50" x2="115.40" y2="578.50" stroke="#555" stroke-width="0.5" />
<line x1="114.20" y1="575.20" x2="115.40" y2="575.20" stroke="#555" stroke-width="0.5" />
<line x1="114.20" y1="571.90" x2="115.40" y2="571.90" stroke="#555" stroke-width="0.5" />
<line x1="114.20" y1="568.60" x2="115.40" y2="568.60" stroke="#555" stroke-width="0.5" />
<line x1="114.20" y1="565.30" x2="115.40" y2="565.30" stroke="#555" stroke-width="0.5" />
<line x1="114.20" y1="562.00" x2="115.40" y2="562.00" stroke="#555" stroke-width="0.5" />
<line x1="114.20" y1="558.70" x2="115.40" y2="558.70" stroke="#555" stroke-width="0.5" />
<line x1="114.20" y1="555.40" x2="115.40" y2="555.40" stroke="#555" stroke-width="0.5" />
<line x1="114.20" y1="552.10" x2="115.40" y2="552.10" stroke="#555" stroke-width="0.5" />
<line x1="114.20" y1="548.80" x2="115.40" y2="548.80" stroke="#555" stroke-width="0.5" />
<line x1="114.20" y1="545.50" x2="115.40" y2="545.50" stroke="#555" stroke-width="0.5" />
<line x1="114.20" y1="542.20" x2="115.40" y2="542.20" stroke="#555" stroke-width="0.5" />
<line x1="114.20" y1="538.90" x2="115.40" y2="538.90" stroke="#555" stroke-width="0.5" />
<line x1="114.20" y1="535.60" x2="115.40" y2="535.60" stroke="#555" stroke-width="0.5" />
<line x1="114.20" y1="532.30" x2="115.40" y2="532.30" stroke="#555" stroke-width="0.5" />
<line x1="114.20" y1="529.00" x2="115.40" y2="529.00" stroke="#555" stroke-width="0.5" />
<line x1="114.20" y1="525.70" x2="115.40" y2="525.70" stroke="#555" stroke-width="0.5" />
<line x1="114.20" y1="522.40" x2="115.40" y2="522.40" stroke="#555" stroke-width="0.5" />
<line x1="114.20" y1="519.10" x2="115.40" y2="519.10" stroke="#555" stroke-width="0.5" />
<line x1="114.20" y1="515.80" x2="115.40" y2="515.80" stroke="#555" stroke-width="0.5" />
<line x1="114.20" y1="512.50" x2="115.40" y2="512.50" stroke="#555" stroke-width="0.5" />
<line x1="114.20" y1="509.20" x2="115.40" y2="509.20" stroke="#555" stroke-width="0.5" />
<line x1="114.20" y1="505.90" x2="115.40" y2="505.90" stroke="#555" stroke-width="0.5" />
<text x="159.70" y="607.60" font-size="4.6" text-anchor="middle" fill="#333" font-weight="bold" >Retention Tim</text>
<text x="0" y="0" font-size="4.2" font-weight="bold" fill="#333" text-anchor="middle" transform="translate(97.8,550.25) rotate(-90)">Intensity [10^6]</text>
<rect x="115.70" y="491.60" width="79.10" height="12.00" fill="#fff" stroke="#444" stroke-width="0.7" rx="0" />
<line x1="117.50" y1="493.60" x2="126.70" y2="493.60" stroke="#3a4ca6" stroke-width="1.2" />
<text x="130.20" y="494.70" font-size="3.3" text-anchor="start" fill="#333" font-weight="bold" >precursor - 970.4754++</text>
<line x1="117.50" y1="497.60" x2="126.70" y2="497.60" stroke="#7a3a8a" stroke-width="1.2" />
<text x="130.20" y="498.70" font-size="3.3" text-anchor="start" fill="#333" font-weight="bold" >precursor [M+1] - 970.9769++</text>
<line x1="117.50" y1="501.60" x2="126.70" y2="501.60" stroke="#c22828" stroke-width="1.2" />
<text x="130.20" y="502.70" font-size="3.3" text-anchor="start" fill="#333" font-weight="bold" >precursor [M+2] - 971.4784++</text>
<polyline points="143.3,595.0 151.0,552.9 158.0,519.0 160.3,517.5 164.1,518.0 169.2,540.7 177.0,595.0" stroke="#3a4ca6" stroke-width="1.7" fill="none" stroke-linejoin="round" />
<polyline points="143.3,595.0 152.0,559.9 158.9,545.6 164.1,547.7 177.0,595.0" stroke="#7a3a8a" stroke-width="1.5" fill="none" stroke-linejoin="round" />
<polyline points="143.3,595.0 152.0,582.1 158.9,575.1 164.1,574.9 177.0,595.0" stroke="#c22828" stroke-width="1.6" fill="none" stroke-linejoin="round" />
<text x="162.30" y="507.60" font-size="3.5" text-anchor="middle" fill="#3a4ca6" >50.3</text>
<text x="162.30" y="511.00" font-size="3.5" text-anchor="middle" fill="#3a4ca6" >+0.4 ppm</text>
<text x="162.30" y="514.40" font-size="3.5" text-anchor="middle" fill="#3a4ca6" >(idotp 0.97)</text>
<line x1="232.40" y1="504.00" x2="232.40" y2="594.60" stroke="#333" stroke-width="0.9" />
<line x1="232.40" y1="594.60" x2="323.00" y2="594.60" stroke="#333" stroke-width="0.9" />
<text x="224.47" y="596.30" font-size="4.9" fill="#333" font-weight="bold" textLength="3.92" lengthAdjust="spacingAndGlyphs" >0</text>
<line x1="230.90" y1="594.60" x2="232.40" y2="594.60" stroke="#333" stroke-width="0.7" />
<text x="221.20" y="584.66" font-size="4.9" fill="#333" font-weight="bold" textLength="7.16" lengthAdjust="spacingAndGlyphs" >50</text>
<line x1="230.90" y1="582.96" x2="232.40" y2="582.96" stroke="#333" stroke-width="0.7" />
<text x="217.65" y="573.01" font-size="4.9" fill="#333" font-weight="bold" textLength="10.72" lengthAdjust="spacingAndGlyphs" >100</text>
<line x1="230.90" y1="571.31" x2="232.40" y2="571.31" stroke="#333" stroke-width="0.7" />
<text x="217.65" y="561.37" font-size="4.9" fill="#333" font-weight="bold" textLength="10.72" lengthAdjust="spacingAndGlyphs" >150</text>
<line x1="230.90" y1="559.67" x2="232.40" y2="559.67" stroke="#333" stroke-width="0.7" />
<text x="217.83" y="549.73" font-size="4.9" fill="#333" font-weight="bold" textLength="10.53" lengthAdjust="spacingAndGlyphs" >200</text>
<line x1="230.90" y1="548.03" x2="232.40" y2="548.03" stroke="#333" stroke-width="0.7" />
<text x="217.83" y="538.09" font-size="4.9" fill="#333" font-weight="bold" textLength="10.53" lengthAdjust="spacingAndGlyphs" >250</text>
<line x1="230.90" y1="536.39" x2="232.40" y2="536.39" stroke="#333" stroke-width="0.7" />
<text x="217.91" y="526.44" font-size="4.9" fill="#333" font-weight="bold" textLength="10.45" lengthAdjust="spacingAndGlyphs" >300</text>
<line x1="230.90" y1="524.74" x2="232.40" y2="524.74" stroke="#333" stroke-width="0.7" />
<text x="217.91" y="514.80" font-size="4.9" fill="#333" font-weight="bold" textLength="10.45" lengthAdjust="spacingAndGlyphs" >350</text>
<line x1="230.90" y1="513.10" x2="232.40" y2="513.10" stroke="#333" stroke-width="0.7" />
<text x="242.80" y="601.20" font-size="5.0" text-anchor="middle" fill="#333" font-weight="bold" >49.5</text>
<text x="267.00" y="601.20" font-size="5.0" text-anchor="middle" fill="#333" font-weight="bold" >50.0</text>
<text x="292.00" y="601.20" font-size="5.0" text-anchor="middle" fill="#333" font-weight="bold" >50.5</text>
<text x="318.80" y="601.20" font-size="5.0" text-anchor="middle" fill="#333" font-weight="bold" >51.0</text>
<line x1="232.40" y1="594.60" x2="232.40" y2="595.80" stroke="#555" stroke-width="0.5" />
<line x1="235.70" y1="594.60" x2="235.70" y2="595.80" stroke="#555" stroke-width="0.5" />
<line x1="239.00" y1="594.60" x2="239.00" y2="595.80" stroke="#555" stroke-width="0.5" />
<line x1="242.30" y1="594.60" x2="242.30" y2="595.80" stroke="#555" stroke-width="0.5" />
<line x1="245.60" y1="594.60" x2="245.60" y2="595.80" stroke="#555" stroke-width="0.5" />
<line x1="248.90" y1="594.60" x2="248.90" y2="595.80" stroke="#555" stroke-width="0.5" />
<line x1="252.20" y1="594.60" x2="252.20" y2="595.80" stroke="#555" stroke-width="0.5" />
<line x1="255.50" y1="594.60" x2="255.50" y2="595.80" stroke="#555" stroke-width="0.5" />
<line x1="258.80" y1="594.60" x2="258.80" y2="595.80" stroke="#555" stroke-width="0.5" />
<line x1="262.10" y1="594.60" x2="262.10" y2="595.80" stroke="#555" stroke-width="0.5" />
<line x1="265.40" y1="594.60" x2="265.40" y2="595.80" stroke="#555" stroke-width="0.5" />
<line x1="268.70" y1="594.60" x2="268.70" y2="595.80" stroke="#555" stroke-width="0.5" />
<line x1="272.00" y1="594.60" x2="272.00" y2="595.80" stroke="#555" stroke-width="0.5" />
<line x1="275.30" y1="594.60" x2="275.30" y2="595.80" stroke="#555" stroke-width="0.5" />
<line x1="278.60" y1="594.60" x2="278.60" y2="595.80" stroke="#555" stroke-width="0.5" />
<line x1="281.90" y1="594.60" x2="281.90" y2="595.80" stroke="#555" stroke-width="0.5" />
<line x1="285.20" y1="594.60" x2="285.20" y2="595.80" stroke="#555" stroke-width="0.5" />
<line x1="288.50" y1="594.60" x2="288.50" y2="595.80" stroke="#555" stroke-width="0.5" />
<line x1="291.80" y1="594.60" x2="291.80" y2="595.80" stroke="#555" stroke-width="0.5" />
<line x1="295.10" y1="594.60" x2="295.10" y2="595.80" stroke="#555" stroke-width="0.5" />
<line x1="298.40" y1="594.60" x2="298.40" y2="595.80" stroke="#555" stroke-width="0.5" />
<line x1="301.70" y1="594.60" x2="301.70" y2="595.80" stroke="#555" stroke-width="0.5" />
<line x1="305.00" y1="594.60" x2="305.00" y2="595.80" stroke="#555" stroke-width="0.5" />
<line x1="308.30" y1="594.60" x2="308.30" y2="595.80" stroke="#555" stroke-width="0.5" />
<line x1="311.60" y1="594.60" x2="311.60" y2="595.80" stroke="#555" stroke-width="0.5" />
<line x1="314.90" y1="594.60" x2="314.90" y2="595.80" stroke="#555" stroke-width="0.5" />
<line x1="318.20" y1="594.60" x2="318.20" y2="595.80" stroke="#555" stroke-width="0.5" />
<line x1="321.50" y1="594.60" x2="321.50" y2="595.80" stroke="#555" stroke-width="0.5" />
<line x1="231.20" y1="594.60" x2="232.40" y2="594.60" stroke="#555" stroke-width="0.5" />
<line x1="231.20" y1="591.30" x2="232.40" y2="591.30" stroke="#555" stroke-width="0.5" />
<line x1="231.20" y1="588.00" x2="232.40" y2="588.00" stroke="#555" stroke-width="0.5" />
<line x1="231.20" y1="584.70" x2="232.40" y2="584.70" stroke="#555" stroke-width="0.5" />
<line x1="231.20" y1="581.40" x2="232.40" y2="581.40" stroke="#555" stroke-width="0.5" />
<line x1="231.20" y1="578.10" x2="232.40" y2="578.10" stroke="#555" stroke-width="0.5" />
<line x1="231.20" y1="574.80" x2="232.40" y2="574.80" stroke="#555" stroke-width="0.5" />
<line x1="231.20" y1="571.50" x2="232.40" y2="571.50" stroke="#555" stroke-width="0.5" />
<line x1="231.20" y1="568.20" x2="232.40" y2="568.20" stroke="#555" stroke-width="0.5" />
<line x1="231.20" y1="564.90" x2="232.40" y2="564.90" stroke="#555" stroke-width="0.5" />
<line x1="231.20" y1="561.60" x2="232.40" y2="561.60" stroke="#555" stroke-width="0.5" />
<line x1="231.20" y1="558.30" x2="232.40" y2="558.30" stroke="#555" stroke-width="0.5" />
<line x1="231.20" y1="555.00" x2="232.40" y2="555.00" stroke="#555" stroke-width="0.5" />
<line x1="231.20" y1="551.70" x2="232.40" y2="551.70" stroke="#555" stroke-width="0.5" />
<line x1="231.20" y1="548.40" x2="232.40" y2="548.40" stroke="#555" stroke-width="0.5" />
<line x1="231.20" y1="545.10" x2="232.40" y2="545.10" stroke="#555" stroke-width="0.5" />
<line x1="231.20" y1="541.80" x2="232.40" y2="541.80" stroke="#555" stroke-width="0.5" />
<line x1="231.20" y1="538.50" x2="232.40" y2="538.50" stroke="#555" stroke-width="0.5" />
<line x1="231.20" y1="535.20" x2="232.40" y2="535.20" stroke="#555" stroke-width="0.5" />
<line x1="231.20" y1="531.90" x2="232.40" y2="531.90" stroke="#555" stroke-width="0.5" />
<line x1="231.20" y1="528.60" x2="232.40" y2="528.60" stroke="#555" stroke-width="0.5" />
<line x1="231.20" y1="525.30" x2="232.40" y2="525.30" stroke="#555" stroke-width="0.5" />
<line x1="231.20" y1="522.00" x2="232.40" y2="522.00" stroke="#555" stroke-width="0.5" />
<line x1="231.20" y1="518.70" x2="232.40" y2="518.70" stroke="#555" stroke-width="0.5" />
<line x1="231.20" y1="515.40" x2="232.40" y2="515.40" stroke="#555" stroke-width="0.5" />
<line x1="231.20" y1="512.10" x2="232.40" y2="512.10" stroke="#555" stroke-width="0.5" />
<line x1="231.20" y1="508.80" x2="232.40" y2="508.80" stroke="#555" stroke-width="0.5" />
<line x1="231.20" y1="505.50" x2="232.40" y2="505.50" stroke="#555" stroke-width="0.5" />
<text x="279.90" y="607.20" font-size="4.6" text-anchor="middle" fill="#333" font-weight="bold" >Retention Tim</text>
<text x="0" y="0" font-size="4.2" font-weight="bold" fill="#333" text-anchor="middle" transform="translate(213.8,549.3) rotate(-90)">Intensity [10^6]</text>
<rect x="233.30" y="490.20" width="79.90" height="12.10" fill="#fff" stroke="#444" stroke-width="0.7" rx="0" />
<line x1="235.10" y1="492.22" x2="244.30" y2="492.22" stroke="#3a4ca6" stroke-width="1.2" />
<text x="247.80" y="493.32" font-size="3.3" text-anchor="start" fill="#333" font-weight="bold" >precursor - 970.4754++</text>
<line x1="235.10" y1="496.25" x2="244.30" y2="496.25" stroke="#7a3a8a" stroke-width="1.2" />
<text x="247.80" y="497.35" font-size="3.3" text-anchor="start" fill="#333" font-weight="bold" >precursor [M+1] - 970.9769++</text>
<line x1="235.10" y1="500.28" x2="244.30" y2="500.28" stroke="#c22828" stroke-width="1.2" />
<text x="247.80" y="501.38" font-size="3.3" text-anchor="start" fill="#333" font-weight="bold" >precursor [M+2] - 971.4784++</text>
<polyline points="273.0,594.6 279.9,564.8 289.4,559.7 295.5,566.2 304.1,594.6" stroke="#3a4ca6" stroke-width="1.7" fill="none" stroke-linejoin="round" />
<polyline points="273.0,594.6 280.0,578.8 289.4,574.1 296.0,578.3 304.1,594.6" stroke="#7a3a8a" stroke-width="1.5" fill="none" stroke-linejoin="round" />
<polyline points="273.0,594.6 280.0,588.1 289.4,585.8 296.0,587.6 304.1,594.6" stroke="#c22828" stroke-width="1.6" fill="none" stroke-linejoin="round" />
<text x="290.30" y="552.20" font-size="3.5" text-anchor="middle" fill="#3a4ca6" >50.4</text>
<text x="290.30" y="555.80" font-size="3.5" text-anchor="middle" fill="#3a4ca6" >0 ppm</text>
<text x="150.85" y="621.30" font-size="12" fill="#111" textLength="19.24" lengthAdjust="spacingAndGlyphs" >WT</text>
<text x="252.99" y="621.30" font-size="12" fill="#111" textLength="55.89" lengthAdjust="spacingAndGlyphs" ><tspan font-style="italic">Mat1a</tspan>-KO</text>
<text x="379.75" y="621.80" font-size="12" fill="#111" textLength="17.71" lengthAdjust="spacingAndGlyphs" >WT</text>
<text x="467.90" y="621.80" font-size="12" fill="#111" textLength="55.48" lengthAdjust="spacingAndGlyphs" ><tspan font-style="italic">Mat1a</tspan>-KO</text>
<line x1="349.00" y1="532.20" x2="349.00" y2="593.40" stroke="#333" stroke-width="0.9" />
<line x1="349.00" y1="593.40" x2="432.90" y2="593.40" stroke="#333" stroke-width="0.9" />
<text x="341.07" y="595.10" font-size="4.9" fill="#333" font-weight="bold" textLength="3.92" lengthAdjust="spacingAndGlyphs" >0</text>
<line x1="347.50" y1="593.40" x2="349.00" y2="593.40" stroke="#333" stroke-width="0.7" />
<text x="340.90" y="582.60" font-size="4.9" fill="#333" font-weight="bold" textLength="4.00" lengthAdjust="spacingAndGlyphs" >1</text>
<line x1="347.50" y1="580.90" x2="349.00" y2="580.90" stroke="#333" stroke-width="0.7" />
<text x="341.11" y="570.10" font-size="4.9" fill="#333" font-weight="bold" textLength="3.87" lengthAdjust="spacingAndGlyphs" >2</text>
<line x1="347.50" y1="568.40" x2="349.00" y2="568.40" stroke="#333" stroke-width="0.7" />
<text x="341.20" y="557.60" font-size="4.9" fill="#333" font-weight="bold" textLength="3.75" lengthAdjust="spacingAndGlyphs" >3</text>
<line x1="347.50" y1="555.90" x2="349.00" y2="555.90" stroke="#333" stroke-width="0.7" />
<text x="341.26" y="545.10" font-size="4.9" fill="#333" font-weight="bold" textLength="3.48" lengthAdjust="spacingAndGlyphs" >4</text>
<line x1="347.50" y1="543.40" x2="349.00" y2="543.40" stroke="#333" stroke-width="0.7" />
<text x="364.50" y="600.00" font-size="5.0" text-anchor="middle" fill="#333" font-weight="bold" >50.2</text>
<text x="389.80" y="600.00" font-size="5.0" text-anchor="middle" fill="#333" font-weight="bold" >50.4</text>
<text x="412.00" y="600.00" font-size="5.0" text-anchor="middle" fill="#333" font-weight="bold" >50.6</text>
<line x1="349.00" y1="593.40" x2="349.00" y2="594.60" stroke="#555" stroke-width="0.5" />
<line x1="352.30" y1="593.40" x2="352.30" y2="594.60" stroke="#555" stroke-width="0.5" />
<line x1="355.60" y1="593.40" x2="355.60" y2="594.60" stroke="#555" stroke-width="0.5" />
<line x1="358.90" y1="593.40" x2="358.90" y2="594.60" stroke="#555" stroke-width="0.5" />
<line x1="362.20" y1="593.40" x2="362.20" y2="594.60" stroke="#555" stroke-width="0.5" />
<line x1="365.50" y1="593.40" x2="365.50" y2="594.60" stroke="#555" stroke-width="0.5" />
<line x1="368.80" y1="593.40" x2="368.80" y2="594.60" stroke="#555" stroke-width="0.5" />
<line x1="372.10" y1="593.40" x2="372.10" y2="594.60" stroke="#555" stroke-width="0.5" />
<line x1="375.40" y1="593.40" x2="375.40" y2="594.60" stroke="#555" stroke-width="0.5" />
<line x1="378.70" y1="593.40" x2="378.70" y2="594.60" stroke="#555" stroke-width="0.5" />
<line x1="382.00" y1="593.40" x2="382.00" y2="594.60" stroke="#555" stroke-width="0.5" />
<line x1="385.30" y1="593.40" x2="385.30" y2="594.60" stroke="#555" stroke-width="0.5" />
<line x1="388.60" y1="593.40" x2="388.60" y2="594.60" stroke="#555" stroke-width="0.5" />
<line x1="391.90" y1="593.40" x2="391.90" y2="594.60" stroke="#555" stroke-width="0.5" />
<line x1="395.20" y1="593.40" x2="395.20" y2="594.60" stroke="#555" stroke-width="0.5" />
<line x1="398.50" y1="593.40" x2="398.50" y2="594.60" stroke="#555" stroke-width="0.5" />
<line x1="401.80" y1="593.40" x2="401.80" y2="594.60" stroke="#555" stroke-width="0.5" />
<line x1="405.10" y1="593.40" x2="405.10" y2="594.60" stroke="#555" stroke-width="0.5" />
<line x1="408.40" y1="593.40" x2="408.40" y2="594.60" stroke="#555" stroke-width="0.5" />
<line x1="411.70" y1="593.40" x2="411.70" y2="594.60" stroke="#555" stroke-width="0.5" />
<line x1="415.00" y1="593.40" x2="415.00" y2="594.60" stroke="#555" stroke-width="0.5" />
<line x1="418.30" y1="593.40" x2="418.30" y2="594.60" stroke="#555" stroke-width="0.5" />
<line x1="421.60" y1="593.40" x2="421.60" y2="594.60" stroke="#555" stroke-width="0.5" />
<line x1="424.90" y1="593.40" x2="424.90" y2="594.60" stroke="#555" stroke-width="0.5" />
<line x1="428.20" y1="593.40" x2="428.20" y2="594.60" stroke="#555" stroke-width="0.5" />
<line x1="431.50" y1="593.40" x2="431.50" y2="594.60" stroke="#555" stroke-width="0.5" />
<line x1="347.80" y1="593.40" x2="349.00" y2="593.40" stroke="#555" stroke-width="0.5" />
<line x1="347.80" y1="590.10" x2="349.00" y2="590.10" stroke="#555" stroke-width="0.5" />
<line x1="347.80" y1="586.80" x2="349.00" y2="586.80" stroke="#555" stroke-width="0.5" />
<line x1="347.80" y1="583.50" x2="349.00" y2="583.50" stroke="#555" stroke-width="0.5" />
<line x1="347.80" y1="580.20" x2="349.00" y2="580.20" stroke="#555" stroke-width="0.5" />
<line x1="347.80" y1="576.90" x2="349.00" y2="576.90" stroke="#555" stroke-width="0.5" />
<line x1="347.80" y1="573.60" x2="349.00" y2="573.60" stroke="#555" stroke-width="0.5" />
<line x1="347.80" y1="570.30" x2="349.00" y2="570.30" stroke="#555" stroke-width="0.5" />
<line x1="347.80" y1="567.00" x2="349.00" y2="567.00" stroke="#555" stroke-width="0.5" />
<line x1="347.80" y1="563.70" x2="349.00" y2="563.70" stroke="#555" stroke-width="0.5" />
<line x1="347.80" y1="560.40" x2="349.00" y2="560.40" stroke="#555" stroke-width="0.5" />
<line x1="347.80" y1="557.10" x2="349.00" y2="557.10" stroke="#555" stroke-width="0.5" />
<line x1="347.80" y1="553.80" x2="349.00" y2="553.80" stroke="#555" stroke-width="0.5" />
<line x1="347.80" y1="550.50" x2="349.00" y2="550.50" stroke="#555" stroke-width="0.5" />
<line x1="347.80" y1="547.20" x2="349.00" y2="547.20" stroke="#555" stroke-width="0.5" />
<line x1="347.80" y1="543.90" x2="349.00" y2="543.90" stroke="#555" stroke-width="0.5" />
<line x1="347.80" y1="540.60" x2="349.00" y2="540.60" stroke="#555" stroke-width="0.5" />
<line x1="347.80" y1="537.30" x2="349.00" y2="537.30" stroke="#555" stroke-width="0.5" />
<line x1="347.80" y1="534.00" x2="349.00" y2="534.00" stroke="#555" stroke-width="0.5" />
<text x="391.00" y="606.00" font-size="4.6" text-anchor="middle" fill="#333" font-weight="bold" >Retention Tim</text>
<text x="0" y="0" font-size="4.2" font-weight="bold" fill="#333" text-anchor="middle" transform="translate(338.0,562.8) rotate(-90)">Intensity [10^6]</text>
<rect x="348.70" y="503.20" width="47.50" height="26.90" fill="#fff" stroke="#444" stroke-width="0.7" rx="0" />
<line x1="350.50" y1="504.88" x2="359.70" y2="504.88" stroke="#e8b890" stroke-width="1.2" />
<text x="363.20" y="505.98" font-size="3.3" text-anchor="start" fill="#333" font-weight="bold" >y10 - 617.8086++</text>
<line x1="350.50" y1="508.24" x2="359.70" y2="508.24" stroke="#3a9a9a" stroke-width="1.2" />
<text x="363.20" y="509.34" font-size="3.3" text-anchor="start" fill="#333" font-weight="bold" >y9 - 560.7970+++</text>
<line x1="350.50" y1="511.61" x2="359.70" y2="511.61" stroke="#1f7a5a" stroke-width="1.2" />
<text x="363.20" y="512.71" font-size="3.3" text-anchor="start" fill="#333" font-weight="bold" >b2 - 201.1234+</text>
<line x1="350.50" y1="514.97" x2="359.70" y2="514.97" stroke="#e89a4a" stroke-width="1.2" />
<text x="363.20" y="516.07" font-size="3.3" text-anchor="start" fill="#333" font-weight="bold" >b4 - 385.2082+</text>
<line x1="350.50" y1="518.33" x2="359.70" y2="518.33" stroke="#8fa0d8" stroke-width="1.2" />
<text x="363.20" y="519.43" font-size="3.3" text-anchor="start" fill="#333" font-weight="bold" >b6 - 619.3088+</text>
<line x1="350.50" y1="521.69" x2="359.70" y2="521.69" stroke="#6a2a8a" stroke-width="1.2" />
<text x="363.20" y="522.79" font-size="3.3" text-anchor="start" fill="#333" font-weight="bold" >b7 - 706.3409+</text>
<line x1="350.50" y1="525.06" x2="359.70" y2="525.06" stroke="#4aaa4a" stroke-width="1.2" />
<text x="363.20" y="526.16" font-size="3.3" text-anchor="start" fill="#333" font-weight="bold" >b8 - 793.3727+</text>
<line x1="350.50" y1="528.42" x2="359.70" y2="528.42" stroke="#e0d070" stroke-width="1.2" />
<text x="363.20" y="529.52" font-size="3.3" text-anchor="start" fill="#333" font-weight="bold" >b10 - 935.8804++</text>
<polyline points="363.2,593.4 375.9,591.5 388.6,588.6 401.2,591.9 413.9,592.8 432.9,592.8" stroke="#4ab0a0" stroke-width="1.0" fill="none" stroke-linejoin="round" />
<polyline points="363.2,593.4 375.9,592.1 388.6,590.3 401.2,592.1 413.9,592.1 425.0,589.6 432.9,587.1" stroke="#7ac070" stroke-width="1.0" fill="none" stroke-linejoin="round" />
<polyline points="363.2,593.4 375.9,590.0 388.6,584.4 401.2,589.3 413.9,591.5 426.5,590.0 432.9,587.1" stroke="#2a7a4a" stroke-width="1.3" fill="none" stroke-linejoin="round" />
<polyline points="363.2,593.4 375.9,580.3 388.6,543.4 401.2,581.9 413.9,591.5 425.0,590.9 432.9,589.0" stroke="#e8d02a" stroke-width="1.7" fill="none" stroke-linejoin="round" />
<text x="388.60" y="540.90" font-size="3.5" text-anchor="middle" fill="#c8a060" >50.4</text>
<path d="M384.3,544.6 L386.8,541.6 L389.3,544.6 Z" fill="#111"/>
<line x1="453.50" y1="533.00" x2="453.50" y2="594.40" stroke="#333" stroke-width="0.9" />
<line x1="453.50" y1="594.40" x2="538.90" y2="594.40" stroke="#333" stroke-width="0.9" />
<text x="445.57" y="596.10" font-size="4.9" fill="#333" font-weight="bold" textLength="3.92" lengthAdjust="spacingAndGlyphs" >0</text>
<line x1="452.00" y1="594.40" x2="453.50" y2="594.40" stroke="#333" stroke-width="0.7" />
<text x="445.40" y="583.70" font-size="4.9" fill="#333" font-weight="bold" textLength="4.00" lengthAdjust="spacingAndGlyphs" >1</text>
<line x1="452.00" y1="582.00" x2="453.50" y2="582.00" stroke="#333" stroke-width="0.7" />
<text x="445.61" y="571.30" font-size="4.9" fill="#333" font-weight="bold" textLength="3.87" lengthAdjust="spacingAndGlyphs" >2</text>
<line x1="452.00" y1="569.60" x2="453.50" y2="569.60" stroke="#333" stroke-width="0.7" />
<text x="445.70" y="558.90" font-size="4.9" fill="#333" font-weight="bold" textLength="3.75" lengthAdjust="spacingAndGlyphs" >3</text>
<line x1="452.00" y1="557.20" x2="453.50" y2="557.20" stroke="#333" stroke-width="0.7" />
<text x="445.76" y="546.50" font-size="4.9" fill="#333" font-weight="bold" textLength="3.48" lengthAdjust="spacingAndGlyphs" >4</text>
<line x1="452.00" y1="544.80" x2="453.50" y2="544.80" stroke="#333" stroke-width="0.7" />
<text x="470.90" y="600.60" font-size="5.0" text-anchor="middle" fill="#333" font-weight="bold" >50.2</text>
<text x="497.00" y="600.60" font-size="5.0" text-anchor="middle" fill="#333" font-weight="bold" >50.4</text>
<text x="518.30" y="600.60" font-size="5.0" text-anchor="middle" fill="#333" font-weight="bold" >50.6</text>
<line x1="453.50" y1="594.40" x2="453.50" y2="595.60" stroke="#555" stroke-width="0.5" />
<line x1="456.80" y1="594.40" x2="456.80" y2="595.60" stroke="#555" stroke-width="0.5" />
<line x1="460.10" y1="594.40" x2="460.10" y2="595.60" stroke="#555" stroke-width="0.5" />
<line x1="463.40" y1="594.40" x2="463.40" y2="595.60" stroke="#555" stroke-width="0.5" />
<line x1="466.70" y1="594.40" x2="466.70" y2="595.60" stroke="#555" stroke-width="0.5" />
<line x1="470.00" y1="594.40" x2="470.00" y2="595.60" stroke="#555" stroke-width="0.5" />
<line x1="473.30" y1="594.40" x2="473.30" y2="595.60" stroke="#555" stroke-width="0.5" />
<line x1="476.60" y1="594.40" x2="476.60" y2="595.60" stroke="#555" stroke-width="0.5" />
<line x1="479.90" y1="594.40" x2="479.90" y2="595.60" stroke="#555" stroke-width="0.5" />
<line x1="483.20" y1="594.40" x2="483.20" y2="595.60" stroke="#555" stroke-width="0.5" />
<line x1="486.50" y1="594.40" x2="486.50" y2="595.60" stroke="#555" stroke-width="0.5" />
<line x1="489.80" y1="594.40" x2="489.80" y2="595.60" stroke="#555" stroke-width="0.5" />
<line x1="493.10" y1="594.40" x2="493.10" y2="595.60" stroke="#555" stroke-width="0.5" />
<line x1="496.40" y1="594.40" x2="496.40" y2="595.60" stroke="#555" stroke-width="0.5" />
<line x1="499.70" y1="594.40" x2="499.70" y2="595.60" stroke="#555" stroke-width="0.5" />
<line x1="503.00" y1="594.40" x2="503.00" y2="595.60" stroke="#555" stroke-width="0.5" />
<line x1="506.30" y1="594.40" x2="506.30" y2="595.60" stroke="#555" stroke-width="0.5" />
<line x1="509.60" y1="594.40" x2="509.60" y2="595.60" stroke="#555" stroke-width="0.5" />
<line x1="512.90" y1="594.40" x2="512.90" y2="595.60" stroke="#555" stroke-width="0.5" />
<line x1="516.20" y1="594.40" x2="516.20" y2="595.60" stroke="#555" stroke-width="0.5" />
<line x1="519.50" y1="594.40" x2="519.50" y2="595.60" stroke="#555" stroke-width="0.5" />
<line x1="522.80" y1="594.40" x2="522.80" y2="595.60" stroke="#555" stroke-width="0.5" />
<line x1="526.10" y1="594.40" x2="526.10" y2="595.60" stroke="#555" stroke-width="0.5" />
<line x1="529.40" y1="594.40" x2="529.40" y2="595.60" stroke="#555" stroke-width="0.5" />
<line x1="532.70" y1="594.40" x2="532.70" y2="595.60" stroke="#555" stroke-width="0.5" />
<line x1="536.00" y1="594.40" x2="536.00" y2="595.60" stroke="#555" stroke-width="0.5" />
<line x1="452.30" y1="594.40" x2="453.50" y2="594.40" stroke="#555" stroke-width="0.5" />
<line x1="452.30" y1="591.10" x2="453.50" y2="591.10" stroke="#555" stroke-width="0.5" />
<line x1="452.30" y1="587.80" x2="453.50" y2="587.80" stroke="#555" stroke-width="0.5" />
<line x1="452.30" y1="584.50" x2="453.50" y2="584.50" stroke="#555" stroke-width="0.5" />
<line x1="452.30" y1="581.20" x2="453.50" y2="581.20" stroke="#555" stroke-width="0.5" />
<line x1="452.30" y1="577.90" x2="453.50" y2="577.90" stroke="#555" stroke-width="0.5" />
<line x1="452.30" y1="574.60" x2="453.50" y2="574.60" stroke="#555" stroke-width="0.5" />
<line x1="452.30" y1="571.30" x2="453.50" y2="571.30" stroke="#555" stroke-width="0.5" />
<line x1="452.30" y1="568.00" x2="453.50" y2="568.00" stroke="#555" stroke-width="0.5" />
<line x1="452.30" y1="564.70" x2="453.50" y2="564.70" stroke="#555" stroke-width="0.5" />
<line x1="452.30" y1="561.40" x2="453.50" y2="561.40" stroke="#555" stroke-width="0.5" />
<line x1="452.30" y1="558.10" x2="453.50" y2="558.10" stroke="#555" stroke-width="0.5" />
<line x1="452.30" y1="554.80" x2="453.50" y2="554.80" stroke="#555" stroke-width="0.5" />
<line x1="452.30" y1="551.50" x2="453.50" y2="551.50" stroke="#555" stroke-width="0.5" />
<line x1="452.30" y1="548.20" x2="453.50" y2="548.20" stroke="#555" stroke-width="0.5" />
<line x1="452.30" y1="544.90" x2="453.50" y2="544.90" stroke="#555" stroke-width="0.5" />
<line x1="452.30" y1="541.60" x2="453.50" y2="541.60" stroke="#555" stroke-width="0.5" />
<line x1="452.30" y1="538.30" x2="453.50" y2="538.30" stroke="#555" stroke-width="0.5" />
<line x1="452.30" y1="535.00" x2="453.50" y2="535.00" stroke="#555" stroke-width="0.5" />
<text x="495.40" y="606.60" font-size="4.6" text-anchor="middle" fill="#333" font-weight="bold" >Retention Tim</text>
<text x="0" y="0" font-size="4.2" font-weight="bold" fill="#333" text-anchor="middle" transform="translate(442.5,563.7) rotate(-90)">Intensity [10^6]</text>
<rect x="453.50" y="503.70" width="48.20" height="27.70" fill="#fff" stroke="#444" stroke-width="0.7" rx="0" />
<line x1="455.30" y1="505.43" x2="464.50" y2="505.43" stroke="#e8b890" stroke-width="1.2" />
<text x="468.00" y="506.53" font-size="3.3" text-anchor="start" fill="#333" font-weight="bold" >y10 - 617.8086++</text>
<line x1="455.30" y1="508.89" x2="464.50" y2="508.89" stroke="#3a9a9a" stroke-width="1.2" />
<text x="468.00" y="509.99" font-size="3.3" text-anchor="start" fill="#333" font-weight="bold" >y9 - 560.7970+++</text>
<line x1="455.30" y1="512.36" x2="464.50" y2="512.36" stroke="#1f7a5a" stroke-width="1.2" />
<text x="468.00" y="513.46" font-size="3.3" text-anchor="start" fill="#333" font-weight="bold" >b2 - 201.1234+</text>
<line x1="455.30" y1="515.82" x2="464.50" y2="515.82" stroke="#e89a4a" stroke-width="1.2" />
<text x="468.00" y="516.92" font-size="3.3" text-anchor="start" fill="#333" font-weight="bold" >b4 - 385.2082+</text>
<line x1="455.30" y1="519.28" x2="464.50" y2="519.28" stroke="#8fa0d8" stroke-width="1.2" />
<text x="468.00" y="520.38" font-size="3.3" text-anchor="start" fill="#333" font-weight="bold" >b6 - 619.3088+</text>
<line x1="455.30" y1="522.74" x2="464.50" y2="522.74" stroke="#6a2a8a" stroke-width="1.2" />
<text x="468.00" y="523.84" font-size="3.3" text-anchor="start" fill="#333" font-weight="bold" >b7 - 706.3409+</text>
<line x1="455.30" y1="526.21" x2="464.50" y2="526.21" stroke="#4aaa4a" stroke-width="1.2" />
<text x="468.00" y="527.31" font-size="3.3" text-anchor="start" fill="#333" font-weight="bold" >b8 - 793.3727+</text>
<line x1="455.30" y1="529.67" x2="464.50" y2="529.67" stroke="#e0d070" stroke-width="1.2" />
<text x="468.00" y="530.77" font-size="3.3" text-anchor="start" fill="#333" font-weight="bold" >b10 - 935.8804++</text>
<polyline points="453.5,593.8 538.9,593.8" stroke="#2a7a4a" stroke-width="1.7" fill="none" stroke-linejoin="round" />
<text x="497.00" y="591.20" font-size="3.5" text-anchor="middle" fill="#3a9a7a" >50.4</text>
<defs><radialGradient id="mg" cx="0.45" cy="0.3" r="0.75"><stop offset="0" stop-color="#6a6a6a"/><stop offset="0.6" stop-color="#333"/><stop offset="1" stop-color="#1a1a1a"/></radialGradient><radialGradient id="yg" cx="0.5" cy="0.45" r="0.6"><stop offset="0" stop-color="#f7e27a"/><stop offset="1" stop-color="#e8c840"/></radialGradient></defs>
<line x1="607.50" y1="481.00" x2="619.00" y2="474.00" stroke="#333" stroke-width="1.1" />
<line x1="607.50" y1="481.00" x2="619.00" y2="485.00" stroke="#333" stroke-width="1.1" />
<ellipse cx="584.5" cy="480.7" rx="24.3" ry="12" fill="url(#mg)"/>
<text x="571.19" y="485.50" font-size="12" fill="#fff" font-weight="bold" textLength="25.43" lengthAdjust="spacingAndGlyphs" >MCJ</text>
<circle cx="623.5" cy="471.1" r="7.7" fill="url(#yg)"/>
<circle cx="623.7" cy="487" r="7.7" fill="url(#yg)"/>
<text x="623.50" y="473.20" font-size="5.6" text-anchor="middle" fill="#222" font-weight="bold" >CH<tspan font-size="3.5" dy="1">3</tspan></text>
<text x="623.70" y="489.10" font-size="5.6" text-anchor="middle" fill="#222" font-weight="bold" >CH<tspan font-size="3.5" dy="1">3</tspan></text>
<text x="602.46" y="496.70" font-size="7" fill="#222" font-weight="bold" textLength="12.18" lengthAdjust="spacingAndGlyphs" >K83</text>
<text x="11.42" y="667.00" font-size="20.5" fill="#111" >H</text>
<text x="86.83" y="662.00" font-size="12" fill="#111" textLength="32.27" lengthAdjust="spacingAndGlyphs" >Huh-7</text>
<text x="43.38" y="681.90" font-size="12.3" fill="#111" textLength="39.23" lengthAdjust="spacingAndGlyphs" >Control</text>
<text x="124.45" y="681.90" font-size="12.3" fill="#111" textLength="32.99" lengthAdjust="spacingAndGlyphs" >SAMe</text>
<line x1="33.90" y1="683.60" x2="91.50" y2="683.60" stroke="#555" stroke-width="1.4" />
<line x1="112.00" y1="683.60" x2="169.90" y2="683.60" stroke="#555" stroke-width="1.4" />
<text x="38.31" y="693.80" font-size="7.5" fill="#111" >0</text>
<text x="48.71" y="693.80" font-size="7.5" fill="#111" >30m</text>
<text x="67.89" y="693.80" font-size="7.5" fill="#111" >1h</text>
<text x="82.48" y="693.80" font-size="7.5" fill="#111" >2h</text>
<text x="114.91" y="693.80" font-size="7.5" fill="#111" >0</text>
<text x="124.71" y="693.80" font-size="7.5" fill="#111" >30m</text>
<text x="144.09" y="693.80" font-size="7.5" fill="#111" >1h</text>
<text x="158.58" y="693.80" font-size="7.5" fill="#111" >2h</text>
<text x="176.27" y="694.60" font-size="8.5" fill="#111" textLength="17.91" lengthAdjust="spacingAndGlyphs" >CHX</text>
<text x="178.89" y="716.00" font-size="12.3" fill="#111" textLength="25.22" lengthAdjust="spacingAndGlyphs" >MCJ</text>
<text x="179.06" y="744.90" font-size="12.3" fill="#111" textLength="37.93" lengthAdjust="spacingAndGlyphs" >β-Actin</text>
<clipPath id="c13"><rect x="29.0" y="699.0" width="146.40" height="26.30"/></clipPath>
<g clip-path="url(#c13)">
<rect x="29.00" y="699.00" width="146.40" height="26.30" fill="#acacac" stroke="none" stroke-width="1" rx="0" />
<rect x="35.1" y="710.5" width="12.5" height="7.5" rx="3.8" fill="#151515" opacity="1.0" filter="url(#b12)" />
<rect x="51.2" y="708.0" width="13.5" height="6.5" rx="3.2" fill="#262626" opacity="1.0" filter="url(#b12)" />
<rect x="66.0" y="709.5" width="12.0" height="5.5" rx="2.8" fill="#6c6c6c" opacity="1.0" filter="url(#b13)" />
<rect x="83.4" y="709.8" width="11.0" height="5.0" rx="2.5" fill="#a0a0a0" opacity="1.0" filter="url(#b14)" />
<rect x="109.1" y="707.1" width="13.0" height="7.0" rx="3.5" fill="#2a2a2a" opacity="1.0" filter="url(#b12)" />
<rect x="127.4" y="708.5" width="11.0" height="5.0" rx="2.5" fill="#a0a0a0" opacity="1.0" filter="url(#b14)" />
<rect x="141.4" y="708.5" width="11.0" height="5.0" rx="2.5" fill="#9a9a9a" opacity="1.0" filter="url(#b14)" />
<rect x="156.5" y="708.5" width="11.0" height="5.0" rx="2.5" fill="#a8a8a8" opacity="1.0" filter="url(#b14)" />
</g>
<rect x="29.00" y="699.00" width="146.40" height="26.30" fill="none" stroke="#1e1e1e" stroke-width="1.4" rx="0" />
<clipPath id="c14"><rect x="29.0" y="728.0" width="146.40" height="26.10"/></clipPath>
<g clip-path="url(#c14)">
<rect x="29.00" y="728.00" width="146.40" height="26.10" fill="#afafaf" stroke="none" stroke-width="1" rx="0" />
<path d="M34.1,737.5 Q40.6,741 47.1,737.5 L47.1,745 Q40.6,746.5 34.1,745 Z" fill="#0e0e0e" opacity="1.0" filter="url(#b9)"/>
<path d="M49.5,737.5 Q56.5,741 63.5,737.5 L63.5,745 Q56.5,746.5 49.5,745 Z" fill="#0e0e0e" opacity="1.0" filter="url(#b9)"/>
<path d="M65.45,737.5 Q71.7,741 77.95,737.5 L77.95,745 Q71.7,746.5 65.45,745 Z" fill="#0e0e0e" opacity="1.0" filter="url(#b9)"/>
<path d="M79.8,737.5 Q86.8,741 93.8,737.5 L93.8,745 Q86.8,746.5 79.8,745 Z" fill="#0e0e0e" opacity="1.0" filter="url(#b9)"/>
<path d="M108.6,737.5 Q115.6,741 122.6,737.5 L122.6,745 Q115.6,746.5 108.6,745 Z" fill="#0e0e0e" opacity="1.0" filter="url(#b9)"/>
<path d="M124.30000000000001,737.5 Q131.8,741 139.3,737.5 L139.3,745 Q131.8,746.5 124.30000000000001,745 Z" fill="#0e0e0e" opacity="1.0" filter="url(#b9)"/>
<path d="M138.8,737.5 Q145.8,741 152.8,737.5 L152.8,745 Q145.8,746.5 138.8,745 Z" fill="#0e0e0e" opacity="1.0" filter="url(#b9)"/>
<path d="M154.5,737.5 Q162.0,741 169.5,737.5 L169.5,745 Q162.0,746.5 154.5,745 Z" fill="#0e0e0e" opacity="1.0" filter="url(#b9)"/>
</g>
<rect x="29.00" y="728.00" width="146.40" height="26.10" fill="none" stroke="#1e1e1e" stroke-width="1.4" rx="0" />
<text x="211.21" y="664.60" font-size="20.5" fill="#111" >I</text>
<text x="316.39" y="662.00" font-size="12" fill="#111" textLength="39.03" lengthAdjust="spacingAndGlyphs" >HepG2</text>
<text x="263.89" y="681.90" font-size="12.3" fill="#111" textLength="38.61" lengthAdjust="spacingAndGlyphs" >Control</text>
<text x="370.75" y="681.60" font-size="12.3" fill="#111" textLength="32.78" lengthAdjust="spacingAndGlyphs" >SAMe</text>
<line x1="238.20" y1="683.60" x2="328.90" y2="683.60" stroke="#555" stroke-width="1.4" />
<line x1="341.70" y1="683.60" x2="432.80" y2="683.60" stroke="#555" stroke-width="1.4" />
<text x="237.61" y="693.40" font-size="7.5" fill="#111" >0</text>
<text x="247.47" y="693.40" font-size="7.5" fill="#111" >15m</text>
<text x="266.61" y="693.40" font-size="7.5" fill="#111" >30m</text>
<text x="285.19" y="693.40" font-size="7.5" fill="#111" >1h</text>
<text x="303.58" y="693.40" font-size="7.5" fill="#111" >2h</text>
<text x="320.43" y="693.40" font-size="7.5" fill="#111" >3h</text>
<text x="357.31" y="693.50" font-size="7.5" fill="#111" >0</text>
<text x="367.87" y="693.50" font-size="7.5" fill="#111" >15m</text>
<text x="386.31" y="693.50" font-size="7.5" fill="#111" >30m</text>
<text x="405.29" y="693.50" font-size="7.5" fill="#111" >1h</text>
<text x="421.78" y="693.50" font-size="7.5" fill="#111" >2h</text>
<text x="436.33" y="693.50" font-size="7.5" fill="#111" >3h</text>
<text x="450.04" y="693.90" font-size="8.5" fill="#111" textLength="19.05" lengthAdjust="spacingAndGlyphs" >CHX</text>
<text x="446.68" y="715.80" font-size="12.3" fill="#111" textLength="25.43" lengthAdjust="spacingAndGlyphs" >MCJ</text>
<text x="447.35" y="744.50" font-size="12.3" fill="#111" textLength="38.55" lengthAdjust="spacingAndGlyphs" >β-Actin</text>
<clipPath id="c15"><rect x="228.3" y="698.7" width="213.90" height="26.30"/></clipPath>
<g clip-path="url(#c15)">
<rect x="228.30" y="698.70" width="213.90" height="26.30" fill="#b3b3b3" stroke="none" stroke-width="1" rx="0" />
<rect x="232.2" y="711.6" width="13.0" height="6.0" rx="3.0" fill="#111" opacity="1.0" filter="url(#b10)" />
<rect x="247.6" y="709.7" width="14.0" height="6.0" rx="3.0" fill="#111" opacity="1.0" filter="url(#b10)" />
<rect x="263.1" y="708.4" width="14.0" height="6.0" rx="3.0" fill="#151515" opacity="1.0" filter="url(#b10)" />
<rect x="279.4" y="707.0" width="14.0" height="4.0" rx="2.0" fill="#505050" opacity="1.0" filter="url(#b11)" />
<rect x="298.1" y="707.5" width="14.0" height="4.0" rx="2.0" fill="#868686" opacity="1.0" filter="url(#b13)" />
<rect x="315.0" y="707.0" width="14.0" height="4.0" rx="2.0" fill="#949494" opacity="1.0" filter="url(#b13)" />
<rect x="341.6" y="705.3" width="16.0" height="6.0" rx="3.0" fill="#1e1e1e" opacity="1.0" filter="url(#b11)" />
<rect x="357.5" y="707.4" width="14.0" height="5.0" rx="2.5" fill="#6a6a6a" opacity="1.0" filter="url(#b11)" />
<rect x="372.5" y="709.3" width="14.0" height="4.0" rx="2.0" fill="#8a8a8a" opacity="1.0" filter="url(#b12)" />
<rect x="389.8" y="708.6" width="14.0" height="4.0" rx="2.0" fill="#8c8c8c" opacity="1.0" filter="url(#b12)" />
<rect x="405.9" y="708.0" width="14.0" height="4.0" rx="2.0" fill="#8e8e8e" opacity="1.0" filter="url(#b12)" />
<rect x="423.1" y="709.8" width="14.0" height="4.0" rx="2.0" fill="#8a8a8a" opacity="1.0" filter="url(#b12)" />
</g>
<rect x="228.30" y="698.70" width="213.90" height="26.30" fill="none" stroke="#1e1e1e" stroke-width="1.4" rx="0" />
<clipPath id="c16"><rect x="228.3" y="727.9" width="213.90" height="26.30"/></clipPath>
<g clip-path="url(#c16)">
<rect x="228.30" y="727.90" width="213.90" height="26.30" fill="#b6b6b6" stroke="none" stroke-width="1" rx="0" />
<path d="M231.5,739.6 L328,737.0 L328,740.6 L231.5,743.2 Z" fill="#121212" opacity="1.0" filter="url(#b10)"/>
<rect x="229.5" y="739.9" width="13.0" height="4.6" rx="2.3" fill="#0c0c0c" opacity="1.0" filter="url(#b9)" />
<rect x="244.5" y="739.0" width="13.0" height="4.6" rx="2.3" fill="#0c0c0c" opacity="1.0" filter="url(#b9)" />
<rect x="262.3" y="738.7" width="13.0" height="4.6" rx="2.3" fill="#0c0c0c" opacity="1.0" filter="url(#b9)" />
<rect x="279.5" y="738.1" width="13.0" height="4.6" rx="2.3" fill="#0c0c0c" opacity="1.0" filter="url(#b9)" />
<rect x="297.5" y="737.8" width="13.0" height="4.6" rx="2.3" fill="#0c0c0c" opacity="1.0" filter="url(#b9)" />
<rect x="314.5" y="737.3" width="13.0" height="4.6" rx="2.3" fill="#0c0c0c" opacity="1.0" filter="url(#b9)" />
<rect x="324.0" y="735.0" width="4.0" height="5.0" rx="2.0" fill="#0c0c0c" opacity="1.0" filter="url(#b9)" />
<path d="M341.5,737.2 L439,737.2 L439,741.2 L341.5,741.2 Z" fill="#121212" opacity="1.0" filter="url(#b10)"/>
<rect x="342.6" y="737.0" width="14.0" height="4.8" rx="2.4" fill="#0c0c0c" opacity="1.0" filter="url(#b9)" />
<rect x="357.5" y="737.0" width="14.0" height="4.8" rx="2.4" fill="#0c0c0c" opacity="1.0" filter="url(#b9)" />
<rect x="372.5" y="737.0" width="14.0" height="4.8" rx="2.4" fill="#0c0c0c" opacity="1.0" filter="url(#b9)" />
<rect x="389.8" y="737.0" width="14.0" height="4.8" rx="2.4" fill="#0c0c0c" opacity="1.0" filter="url(#b9)" />
<rect x="405.9" y="737.0" width="14.0" height="4.8" rx="2.4" fill="#0c0c0c" opacity="1.0" filter="url(#b9)" />
<rect x="423.1" y="737.0" width="14.0" height="4.8" rx="2.4" fill="#0c0c0c" opacity="1.0" filter="url(#b9)" />
<rect x="434.0" y="734.0" width="6.0" height="6.0" rx="3.0" fill="#0c0c0c" opacity="1.0" filter="url(#b10)" />
</g>
<rect x="228.30" y="727.90" width="213.90" height="26.30" fill="none" stroke="#1e1e1e" stroke-width="1.4" rx="0" />
<text x="484.18" y="662.60" font-size="20.5" fill="#111" >J</text>
<text x="547.71" y="662.20" font-size="12" fill="#111" textLength="56.38" lengthAdjust="spacingAndGlyphs" >Mouse PH</text>
<text x="517.47" y="681.70" font-size="12.3" fill="#111" textLength="39.85" lengthAdjust="spacingAndGlyphs" >Control</text>
<text x="599.14" y="681.70" font-size="12.3" fill="#111" textLength="33.51" lengthAdjust="spacingAndGlyphs" >SAMe</text>
<line x1="508.30" y1="683.70" x2="566.00" y2="683.70" stroke="#555" stroke-width="1.4" />
<line x1="586.80" y1="683.70" x2="644.50" y2="683.70" stroke="#555" stroke-width="1.4" />
<text x="512.11" y="692.50" font-size="7.5" fill="#111" >0</text>
<text x="523.11" y="692.50" font-size="7.5" fill="#111" >30m</text>
<text x="541.09" y="692.50" font-size="7.5" fill="#111" >1h</text>
<text x="555.98" y="692.50" font-size="7.5" fill="#111" >2h</text>
<text x="588.51" y="692.50" font-size="7.5" fill="#111" >0</text>
<text x="599.01" y="692.50" font-size="7.5" fill="#111" >30m</text>
<text x="615.69" y="692.50" font-size="7.5" fill="#111" >1h</text>
<text x="632.38" y="692.50" font-size="7.5" fill="#111" >2h</text>
<text x="654.45" y="695.10" font-size="8.5" fill="#111" textLength="18.74" lengthAdjust="spacingAndGlyphs" >CHX</text>
<text x="652.07" y="716.20" font-size="12.3" fill="#111" textLength="25.87" lengthAdjust="spacingAndGlyphs" >MCJ</text>
<text x="652.25" y="745.00" font-size="12.3" fill="#111" textLength="38.55" lengthAdjust="spacingAndGlyphs" >β-Actin</text>
<clipPath id="c17"><rect x="501.9" y="698.8" width="146.50" height="26.30"/></clipPath>
<g clip-path="url(#c17)">
<rect x="501.90" y="698.80" width="146.50" height="26.30" fill="#bcbcbc" stroke="none" stroke-width="1" rx="0" />
<rect x="507.1" y="708.5" width="13.0" height="6.2" rx="3.1" fill="#5a5a5a" opacity="1.0" filter="url(#b13)" />
<rect x="520.7" y="708.5" width="13.0" height="6.2" rx="3.1" fill="#5a5a5a" opacity="1.0" filter="url(#b13)" />
<rect x="537.5" y="708.5" width="13.0" height="6.2" rx="3.1" fill="#555" opacity="1.0" filter="url(#b13)" />
<rect x="553.3" y="708.5" width="13.0" height="6.2" rx="3.1" fill="#666" opacity="1.0" filter="url(#b13)" />
<rect x="583.1" y="708.5" width="13.0" height="6.2" rx="3.1" fill="#5a5a5a" opacity="1.0" filter="url(#b13)" />
<rect x="598.9" y="708.5" width="13.0" height="6.2" rx="3.1" fill="#7a7a7a" opacity="1.0" filter="url(#b13)" />
<rect x="612.5" y="708.5" width="13.0" height="6.2" rx="3.1" fill="#555" opacity="1.0" filter="url(#b13)" />
<rect x="630.6" y="708.5" width="13.0" height="6.2" rx="3.1" fill="#9a9a9a" opacity="1.0" filter="url(#b13)" />
</g>
<rect x="501.90" y="698.80" width="146.50" height="26.30" fill="none" stroke="#1e1e1e" stroke-width="1.4" rx="0" />
<clipPath id="c18"><rect x="501.9" y="727.9" width="146.50" height="26.30"/></clipPath>
<g clip-path="url(#c18)">
<rect x="501.90" y="727.90" width="146.50" height="26.30" fill="#bebebe" stroke="none" stroke-width="1" rx="0" />
<path d="M506.6,737 Q513.6,739.5 520.6,737 L520.6,744 Q520.1,747 516.6,747 L510.6,747 Q507.1,747 506.6,744 Z" fill="#0a0a0a" opacity="1.0" filter="url(#b9)"/>
<path d="M520.5,737 Q527.5,739.5 534.5,737 L534.5,744 Q534.0,747 530.5,747 L524.5,747 Q521.0,747 520.5,744 Z" fill="#0a0a0a" opacity="1.0" filter="url(#b9)"/>
<path d="M535.8,737 Q542.8,739.5 549.8,737 L549.8,744 Q549.3,747 545.8,747 L539.8,747 Q536.3,747 535.8,744 Z" fill="#0a0a0a" opacity="1.0" filter="url(#b9)"/>
<path d="M551.5,737 Q558.5,739.5 565.5,737 L565.5,744 Q565.0,747 561.5,747 L555.5,747 Q552.0,747 551.5,744 Z" fill="#0a0a0a" opacity="1.0" filter="url(#b9)"/>
<path d="M582.9,737 Q589.9,739.5 596.9,737 L596.9,744 Q596.4,747 592.9,747 L586.9,747 Q583.4,747 582.9,744 Z" fill="#0a0a0a" opacity="1.0" filter="url(#b9)"/>
<path d="M598.4,737 Q605.4,739.5 612.4,737 L612.4,744 Q611.9,747 608.4,747 L602.4,747 Q598.9,747 598.4,744 Z" fill="#0a0a0a" opacity="1.0" filter="url(#b9)"/>
<path d="M613.2,737 Q620.2,739.5 627.2,737 L627.2,744 Q626.7,747 623.2,747 L617.2,747 Q613.7,747 613.2,744 Z" fill="#0a0a0a" opacity="1.0" filter="url(#b9)"/>
<path d="M629.8,737 Q636.8,739.5 643.8,737 L643.8,744 Q643.3,747 639.8,747 L633.8,747 Q630.3,747 629.8,744 Z" fill="#0a0a0a" opacity="1.0" filter="url(#b9)"/>
<rect x="615.2" y="740.5" width="10.0" height="9.0" rx="4.5" fill="#0a0a0a" opacity="1.0" filter="url(#b12)" />
</g>
<rect x="501.90" y="727.90" width="146.50" height="26.30" fill="none" stroke="#1e1e1e" stroke-width="1.4" rx="0" />
<line x1="42.50" y1="793.00" x2="42.50" y2="887.60" stroke="#111" stroke-width="1.3" />
<line x1="41.90" y1="887.00" x2="175.00" y2="887.00" stroke="#111" stroke-width="1.3" />
<line x1="38.50" y1="887.00" x2="42.50" y2="887.00" stroke="#111" stroke-width="1.2" />
<text x="34.14" y="889.60" font-size="7.3" fill="#111" font-weight="bold" >0</text>
<line x1="38.50" y1="855.87" x2="42.50" y2="855.87" stroke="#111" stroke-width="1.2" />
<text x="30.08" y="858.47" font-size="7.3" fill="#111" font-weight="bold" >50</text>
<line x1="38.50" y1="824.73" x2="42.50" y2="824.73" stroke="#111" stroke-width="1.2" />
<text x="26.02" y="827.33" font-size="7.3" fill="#111" font-weight="bold" >100</text>
<line x1="38.50" y1="793.60" x2="42.50" y2="793.60" stroke="#111" stroke-width="1.2" />
<text x="26.02" y="796.20" font-size="7.3" fill="#111" font-weight="bold" >150</text>
<line x1="42.50" y1="887.00" x2="42.50" y2="890.50" stroke="#111" stroke-width="1.2" />
<line x1="85.30" y1="887.00" x2="85.30" y2="890.50" stroke="#111" stroke-width="1.2" />
<line x1="128.20" y1="887.00" x2="128.20" y2="890.50" stroke="#111" stroke-width="1.2" />
<line x1="172.10" y1="887.00" x2="172.10" y2="890.50" stroke="#111" stroke-width="1.2" />
<text x="40.45" y="897.70" font-size="7.4" fill="#111" font-weight="bold" >0</text>
<text x="75.55" y="897.70" font-size="7.4" fill="#111" font-weight="bold" >30min</text>
<text x="123.88" y="897.70" font-size="7.4" fill="#111" font-weight="bold" >1h</text>
<text x="167.88" y="897.70" font-size="7.4" fill="#111" font-weight="bold" >2h</text>
<text x="87.82" y="913.80" font-size="7.7" fill="#111" font-weight="bold" textLength="40.36" lengthAdjust="spacingAndGlyphs" >Time (CHX)</text>
<text x="0" y="0" font-size="7.4" font-weight="bold" fill="#111" text-anchor="middle" transform="translate(12.6,841.5) rotate(-90)">% of MCJ</text>
<text x="0" y="0" font-size="7.4" font-weight="bold" fill="#111" text-anchor="middle" transform="translate(21.0,841.5) rotate(-90)">(relative to 0h)</text>
<polyline points="42.5,824.7 85.3,867.7 128.2,875.8 172.1,881.4" stroke="#a8643e" stroke-width="1.0" fill="none" stroke-linejoin="round" />
<polyline points="42.5,824.7 85.3,839.1 128.2,860.2 172.1,877.0" stroke="#f0aa72" stroke-width="1.0" fill="none" stroke-linejoin="round" />
<line x1="85.30" y1="835.94" x2="85.30" y2="842.17" stroke="#f0aa72" stroke-width="0.9" />
<line x1="83.30" y1="835.94" x2="87.30" y2="835.94" stroke="#f0aa72" stroke-width="0.9" />
<line x1="83.30" y1="842.17" x2="87.30" y2="842.17" stroke="#f0aa72" stroke-width="0.9" />
<line x1="128.20" y1="857.11" x2="128.20" y2="863.34" stroke="#f0aa72" stroke-width="0.9" />
<line x1="126.20" y1="857.11" x2="130.20" y2="857.11" stroke="#f0aa72" stroke-width="0.9" />
<line x1="126.20" y1="863.34" x2="130.20" y2="863.34" stroke="#f0aa72" stroke-width="0.9" />
<line x1="172.10" y1="874.55" x2="172.10" y2="879.53" stroke="#f0aa72" stroke-width="0.9" />
<line x1="170.10" y1="874.55" x2="174.10" y2="874.55" stroke="#f0aa72" stroke-width="0.9" />
<line x1="170.10" y1="879.53" x2="174.10" y2="879.53" stroke="#f0aa72" stroke-width="0.9" />
<line x1="85.30" y1="863.96" x2="85.30" y2="871.43" stroke="#a8643e" stroke-width="0.9" />
<line x1="83.30" y1="863.96" x2="87.30" y2="863.96" stroke="#a8643e" stroke-width="0.9" />
<line x1="83.30" y1="871.43" x2="87.30" y2="871.43" stroke="#a8643e" stroke-width="0.9" />
<line x1="128.20" y1="873.30" x2="128.20" y2="878.28" stroke="#a8643e" stroke-width="0.9" />
<line x1="126.20" y1="873.30" x2="130.20" y2="873.30" stroke="#a8643e" stroke-width="0.9" />
<line x1="126.20" y1="878.28" x2="130.20" y2="878.28" stroke="#a8643e" stroke-width="0.9" />
<path d="M39.8,826.8 L42.5,822.0 L45.2,826.8 Z" fill="#a8643e"/>
<path d="M82.6,869.8 L85.3,865.0 L88.0,869.8 Z" fill="#a8643e"/>
<path d="M125.5,877.9 L128.2,873.1 L130.9,877.9 Z" fill="#a8643e"/>
<path d="M169.4,883.5 L172.1,878.7 L174.8,883.5 Z" fill="#a8643e"/>
<circle cx="42.5" cy="824.7" r="2.5" fill="#f0aa72"/>
<circle cx="85.3" cy="839.1" r="2.5" fill="#f0aa72"/>
<circle cx="128.2" cy="860.2" r="2.5" fill="#f0aa72"/>
<circle cx="172.1" cy="877.0" r="2.5" fill="#f0aa72"/>
<line x1="132.30" y1="793.20" x2="143.30" y2="793.20" stroke="#f0aa72" stroke-width="1" />
<circle cx="137.8" cy="793.2" r="2.2" fill="#f0aa72"/>
<text x="148.48" y="795.60" font-size="6.4" fill="#222" >Control</text>
<line x1="132.30" y1="801.60" x2="143.30" y2="801.60" stroke="#a8643e" stroke-width="1" />
<path d="M135.4,803.4 L137.8,799.2 L140.20000000000002,803.4 Z" fill="#a8643e"/>
<text x="148.51" y="803.80" font-size="6.4" fill="#222" >SAMe</text>
<text x="125.80" y="818.70" font-size="9.0" text-anchor="start" fill="#efb088" >t<tspan font-size="5.8" dy="1.7">1/2</tspan><tspan dy="-1.7">=51.3±5.3</tspan></text>
<text x="125.80" y="829.00" font-size="9.0" text-anchor="start" fill="#a8704a" >t<tspan font-size="5.8" dy="1.7">1/2</tspan><tspan dy="-1.7">=18.3±2.3*</tspan></text>
<line x1="289.10" y1="793.00" x2="289.10" y2="887.60" stroke="#111" stroke-width="1.3" />
<line x1="288.50" y1="887.00" x2="420.50" y2="887.00" stroke="#111" stroke-width="1.3" />
<line x1="285.10" y1="887.00" x2="289.10" y2="887.00" stroke="#111" stroke-width="1.2" />
<text x="280.74" y="889.60" font-size="7.3" fill="#111" font-weight="bold" >0</text>
<line x1="285.10" y1="855.87" x2="289.10" y2="855.87" stroke="#111" stroke-width="1.2" />
<text x="276.68" y="858.47" font-size="7.3" fill="#111" font-weight="bold" >50</text>
<line x1="285.10" y1="824.73" x2="289.10" y2="824.73" stroke="#111" stroke-width="1.2" />
<text x="272.62" y="827.33" font-size="7.3" fill="#111" font-weight="bold" >100</text>
<line x1="285.10" y1="793.60" x2="289.10" y2="793.60" stroke="#111" stroke-width="1.2" />
<text x="272.62" y="796.20" font-size="7.3" fill="#111" font-weight="bold" >150</text>
<line x1="289.10" y1="887.00" x2="289.10" y2="890.50" stroke="#111" stroke-width="1.2" />
<line x1="322.10" y1="887.00" x2="322.10" y2="890.50" stroke="#111" stroke-width="1.2" />
<line x1="353.90" y1="887.00" x2="353.90" y2="890.50" stroke="#111" stroke-width="1.2" />
<line x1="386.50" y1="887.00" x2="386.50" y2="890.50" stroke="#111" stroke-width="1.2" />
<line x1="418.80" y1="887.00" x2="418.80" y2="890.50" stroke="#111" stroke-width="1.2" />
<text x="287.05" y="897.70" font-size="7.4" fill="#111" font-weight="bold" >0</text>
<text x="310.70" y="897.70" font-size="7.4" fill="#111" font-weight="bold" >15min</text>
<text x="343.35" y="897.70" font-size="7.4" fill="#111" font-weight="bold" >30min</text>
<text x="382.18" y="897.70" font-size="7.4" fill="#111" font-weight="bold" >1h</text>
<text x="414.58" y="897.70" font-size="7.4" fill="#111" font-weight="bold" >2h</text>
<text x="345.42" y="913.80" font-size="7.7" fill="#111" font-weight="bold" textLength="17.34" lengthAdjust="spacingAndGlyphs" >Time</text>
<text x="0" y="0" font-size="7.4" font-weight="bold" fill="#111" text-anchor="middle" transform="translate(259.6,840.2) rotate(-90)">% of MCJ</text>
<text x="0" y="0" font-size="7.4" font-weight="bold" fill="#111" text-anchor="middle" transform="translate(269.0,840.2) rotate(-90)">(relative to 0h)</text>
<polyline points="289.1,824.7 322.1,861.5 353.9,876.4 386.5,877.7 418.8,879.5" stroke="#a8643e" stroke-width="1.0" fill="none" stroke-linejoin="round" />
<polyline points="289.1,824.7 322.1,830.3 353.9,845.9 386.5,859.6 418.8,877.0" stroke="#f0aa72" stroke-width="1.0" fill="none" stroke-linejoin="round" />
<line x1="322.10" y1="828.47" x2="322.10" y2="832.21" stroke="#f0aa72" stroke-width="0.9" />
<line x1="320.10" y1="828.47" x2="324.10" y2="828.47" stroke="#f0aa72" stroke-width="0.9" />
<line x1="320.10" y1="832.21" x2="324.10" y2="832.21" stroke="#f0aa72" stroke-width="0.9" />
<line x1="353.90" y1="842.79" x2="353.90" y2="849.02" stroke="#f0aa72" stroke-width="0.9" />
<line x1="351.90" y1="842.79" x2="355.90" y2="842.79" stroke="#f0aa72" stroke-width="0.9" />
<line x1="351.90" y1="849.02" x2="355.90" y2="849.02" stroke="#f0aa72" stroke-width="0.9" />
<line x1="386.50" y1="856.49" x2="386.50" y2="862.72" stroke="#f0aa72" stroke-width="0.9" />
<line x1="384.50" y1="856.49" x2="388.50" y2="856.49" stroke="#f0aa72" stroke-width="0.9" />
<line x1="384.50" y1="862.72" x2="388.50" y2="862.72" stroke="#f0aa72" stroke-width="0.9" />
<line x1="418.80" y1="875.17" x2="418.80" y2="878.91" stroke="#f0aa72" stroke-width="0.9" />
<line x1="416.80" y1="875.17" x2="420.80" y2="875.17" stroke="#f0aa72" stroke-width="0.9" />
<line x1="416.80" y1="878.91" x2="420.80" y2="878.91" stroke="#f0aa72" stroke-width="0.9" />
<line x1="322.10" y1="856.49" x2="322.10" y2="866.45" stroke="#a8643e" stroke-width="0.9" />
<line x1="320.10" y1="856.49" x2="324.10" y2="856.49" stroke="#a8643e" stroke-width="0.9" />
<line x1="320.10" y1="866.45" x2="324.10" y2="866.45" stroke="#a8643e" stroke-width="0.9" />
<path d="M286.4,826.8 L289.1,822.0 L291.8,826.8 Z" fill="#a8643e"/>
<path d="M319.4,863.6 L322.1,858.8 L324.8,863.6 Z" fill="#a8643e"/>
<path d="M351.2,878.5 L353.9,873.7 L356.6,878.5 Z" fill="#a8643e"/>
<path d="M383.8,879.8 L386.5,875.0 L389.2,879.8 Z" fill="#a8643e"/>
<path d="M416.1,881.6 L418.8,876.8 L421.5,881.6 Z" fill="#a8643e"/>
<circle cx="289.1" cy="824.7" r="2.5" fill="#f0aa72"/>
<circle cx="322.1" cy="830.3" r="2.5" fill="#f0aa72"/>
<circle cx="353.9" cy="845.9" r="2.5" fill="#f0aa72"/>
<circle cx="386.5" cy="859.6" r="2.5" fill="#f0aa72"/>
<circle cx="418.8" cy="877.0" r="2.5" fill="#f0aa72"/>
<line x1="379.60" y1="793.20" x2="390.60" y2="793.20" stroke="#f0aa72" stroke-width="1" />
<circle cx="385.1" cy="793.2" r="2.2" fill="#f0aa72"/>
<text x="395.78" y="795.60" font-size="6.4" fill="#222" >Control</text>
<line x1="379.60" y1="801.60" x2="390.60" y2="801.60" stroke="#a8643e" stroke-width="1" />
<path d="M382.70000000000005,803.4 L385.1,799.2 L387.5,803.4 Z" fill="#a8643e"/>
<text x="395.81" y="803.80" font-size="6.4" fill="#222" >SAMe</text>
<text x="372.80" y="818.70" font-size="9.0" text-anchor="start" fill="#efb088" >t<tspan font-size="5.8" dy="1.7">1/2</tspan><tspan dy="-1.7">=55.1±6.5</tspan></text>
<text x="372.80" y="829.30" font-size="9.0" text-anchor="start" fill="#a8704a" >t<tspan font-size="5.8" dy="1.7">1/2</tspan><tspan dy="-1.7">=23.5±7.1*</tspan></text>
<line x1="517.10" y1="793.00" x2="517.10" y2="887.60" stroke="#111" stroke-width="1.3" />
<line x1="516.50" y1="887.00" x2="651.00" y2="887.00" stroke="#111" stroke-width="1.3" />
<line x1="513.10" y1="887.00" x2="517.10" y2="887.00" stroke="#111" stroke-width="1.2" />
<text x="508.74" y="889.60" font-size="7.3" fill="#111" font-weight="bold" >0</text>
<line x1="513.10" y1="855.87" x2="517.10" y2="855.87" stroke="#111" stroke-width="1.2" />
<text x="504.68" y="858.47" font-size="7.3" fill="#111" font-weight="bold" >50</text>
<line x1="513.10" y1="824.73" x2="517.10" y2="824.73" stroke="#111" stroke-width="1.2" />
<text x="500.62" y="827.33" font-size="7.3" fill="#111" font-weight="bold" >100</text>
<line x1="513.10" y1="793.60" x2="517.10" y2="793.60" stroke="#111" stroke-width="1.2" />
<text x="500.62" y="796.20" font-size="7.3" fill="#111" font-weight="bold" >150</text>
<line x1="517.10" y1="887.00" x2="517.10" y2="890.50" stroke="#111" stroke-width="1.2" />
<line x1="561.30" y1="887.00" x2="561.30" y2="890.50" stroke="#111" stroke-width="1.2" />
<line x1="605.20" y1="887.00" x2="605.20" y2="890.50" stroke="#111" stroke-width="1.2" />
<line x1="648.90" y1="887.00" x2="648.90" y2="890.50" stroke="#111" stroke-width="1.2" />
<text x="515.05" y="897.70" font-size="7.4" fill="#111" font-weight="bold" >0</text>
<text x="550.75" y="897.70" font-size="7.4" fill="#111" font-weight="bold" >30min</text>
<text x="600.88" y="897.70" font-size="7.4" fill="#111" font-weight="bold" >1h</text>
<text x="644.68" y="897.70" font-size="7.4" fill="#111" font-weight="bold" >2h</text>
<text x="573.91" y="913.80" font-size="7.7" fill="#111" font-weight="bold" textLength="18.05" lengthAdjust="spacingAndGlyphs" >Time</text>
<text x="0" y="0" font-size="7.4" font-weight="bold" fill="#111" text-anchor="middle" transform="translate(489.2,839.8) rotate(-90)">% of MCJ</text>
<text x="0" y="0" font-size="7.4" font-weight="bold" fill="#111" text-anchor="middle" transform="translate(497.6,839.8) rotate(-90)">(relative to 0h)</text>
<polyline points="517.1,824.7 561.3,845.9 605.2,845.9 648.9,857.7" stroke="#a8643e" stroke-width="1.0" fill="none" stroke-linejoin="round" />
<polyline points="517.1,824.7 561.3,830.3 605.2,832.8 648.9,847.8" stroke="#f0aa72" stroke-width="1.0" fill="none" stroke-linejoin="round" />
<line x1="561.30" y1="824.73" x2="561.30" y2="835.94" stroke="#f0aa72" stroke-width="0.9" />
<line x1="559.30" y1="824.73" x2="563.30" y2="824.73" stroke="#f0aa72" stroke-width="0.9" />
<line x1="559.30" y1="835.94" x2="563.30" y2="835.94" stroke="#f0aa72" stroke-width="0.9" />
<line x1="605.20" y1="830.96" x2="605.20" y2="834.70" stroke="#f0aa72" stroke-width="0.9" />
<line x1="603.20" y1="830.96" x2="607.20" y2="830.96" stroke="#f0aa72" stroke-width="0.9" />
<line x1="603.20" y1="834.70" x2="607.20" y2="834.70" stroke="#f0aa72" stroke-width="0.9" />
<line x1="648.90" y1="846.22" x2="648.90" y2="849.33" stroke="#f0aa72" stroke-width="0.9" />
<line x1="646.90" y1="846.22" x2="650.90" y2="846.22" stroke="#f0aa72" stroke-width="0.9" />
<line x1="646.90" y1="849.33" x2="650.90" y2="849.33" stroke="#f0aa72" stroke-width="0.9" />
<line x1="561.30" y1="842.79" x2="561.30" y2="849.02" stroke="#a8643e" stroke-width="0.9" />
<line x1="559.30" y1="842.79" x2="563.30" y2="842.79" stroke="#a8643e" stroke-width="0.9" />
<line x1="559.30" y1="849.02" x2="563.30" y2="849.02" stroke="#a8643e" stroke-width="0.9" />
<line x1="605.20" y1="842.79" x2="605.20" y2="849.02" stroke="#a8643e" stroke-width="0.9" />
<line x1="603.20" y1="842.79" x2="607.20" y2="842.79" stroke="#a8643e" stroke-width="0.9" />
<line x1="603.20" y1="849.02" x2="607.20" y2="849.02" stroke="#a8643e" stroke-width="0.9" />
<line x1="648.90" y1="855.24" x2="648.90" y2="860.23" stroke="#a8643e" stroke-width="0.9" />
<line x1="646.90" y1="855.24" x2="650.90" y2="855.24" stroke="#a8643e" stroke-width="0.9" />
<line x1="646.90" y1="860.23" x2="650.90" y2="860.23" stroke="#a8643e" stroke-width="0.9" />
<path d="M514.4,826.8 L517.1,822.0 L519.8,826.8 Z" fill="#a8643e"/>
<path d="M558.6,848.0 L561.3,843.2 L564.0,848.0 Z" fill="#a8643e"/>
<path d="M602.5,848.0 L605.2,843.2 L607.9,848.0 Z" fill="#a8643e"/>
<path d="M646.2,859.8 L648.9,855.0 L651.6,859.8 Z" fill="#a8643e"/>
<circle cx="517.1" cy="824.7" r="2.5" fill="#f0aa72"/>
<circle cx="561.3" cy="830.3" r="2.5" fill="#f0aa72"/>
<circle cx="605.2" cy="832.8" r="2.5" fill="#f0aa72"/>
<circle cx="648.9" cy="847.8" r="2.5" fill="#f0aa72"/>
<line x1="608.20" y1="793.20" x2="619.20" y2="793.20" stroke="#f0aa72" stroke-width="1" />
<circle cx="613.7" cy="793.2" r="2.2" fill="#f0aa72"/>
<text x="624.38" y="795.60" font-size="6.4" fill="#222" >Control</text>
<line x1="608.20" y1="801.60" x2="619.20" y2="801.60" stroke="#a8643e" stroke-width="1" />
<path d="M611.3000000000001,803.4 L613.7,799.2 L616.1,803.4 Z" fill="#a8643e"/>
<text x="624.41" y="803.80" font-size="6.4" fill="#222" >SAMe</text>
<text x="525.30" y="868.00" font-size="9.0" text-anchor="start" fill="#efb088" >t<tspan font-size="5.8" dy="1.7">1/2</tspan><tspan dy="-1.7">=143±8</tspan></text>
<text x="525.30" y="879.70" font-size="9.0" text-anchor="start" fill="#a8704a" >t<tspan font-size="5.8" dy="1.7">1/2</tspan><tspan dy="-1.7">=113±5*</tspan></text>
</svg></body></html>
